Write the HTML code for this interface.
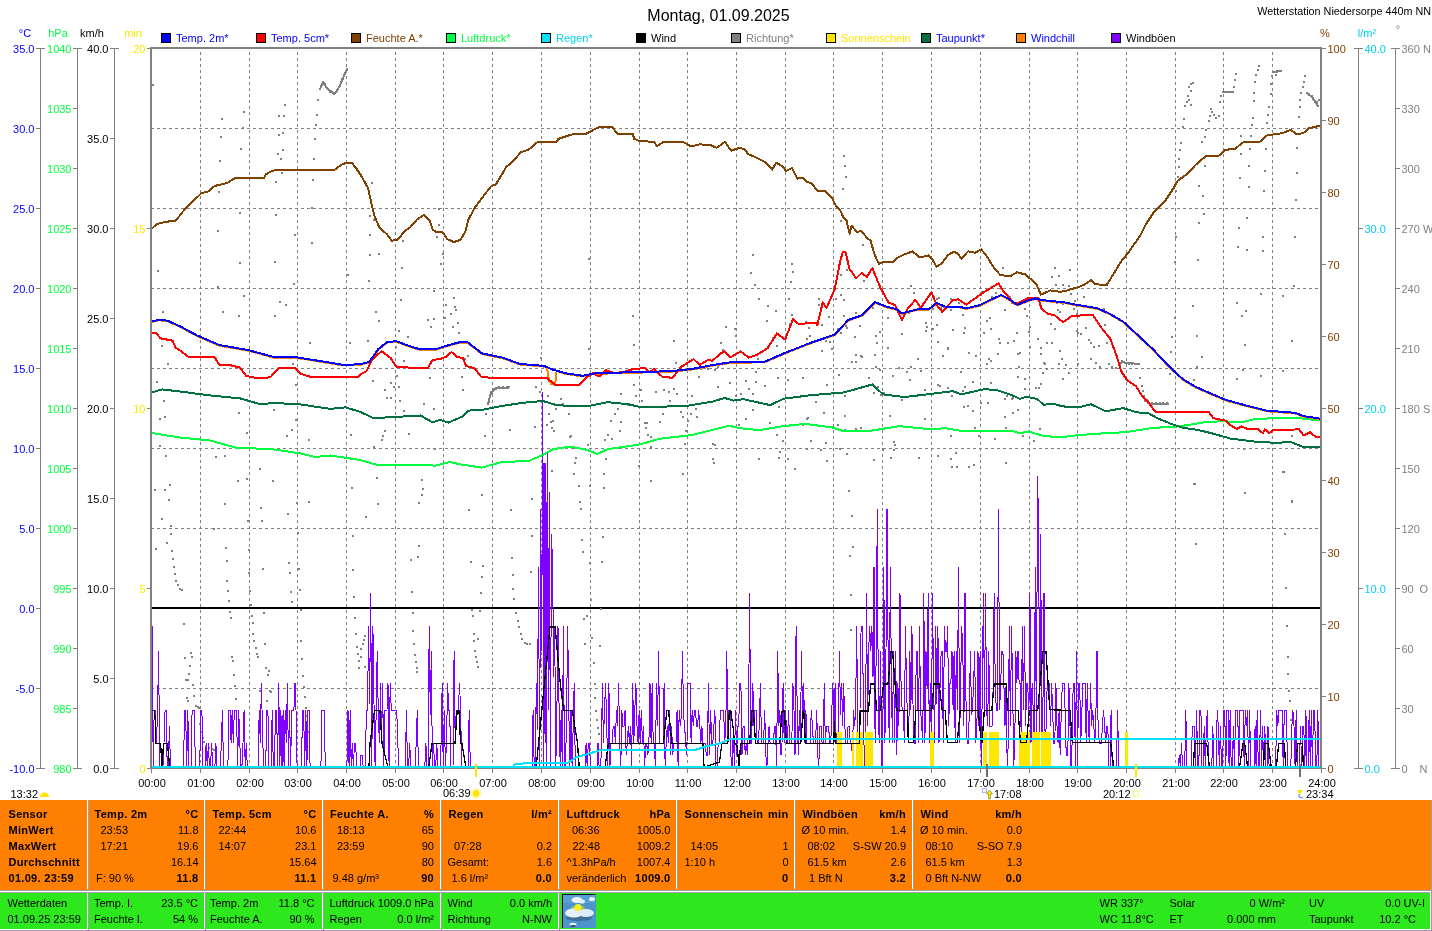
<!DOCTYPE html>
<html><head><meta charset="utf-8"><title>Wetterstation Niedersorpe</title>
<style>
html,body{margin:0;padding:0;background:#fff;}
body{width:1432px;height:931px;overflow:hidden;}
svg{display:block;}
text{font-family:"Liberation Sans", Arial, sans-serif;}
</style></head><body>
<svg width="1432" height="931" viewBox="0 0 1432 931">
<text x="718.5" y="20.5" fill="#000" font-size="16" text-anchor="middle" font-weight="normal" >Montag, 01.09.2025</text>
<text x="1431" y="15" fill="#000" font-size="10.8" text-anchor="end" font-weight="normal" >Wetterstation Niedersorpe 440m NN</text>
<text x="25" y="37" fill="#0000ff" font-size="11" text-anchor="middle" font-weight="normal" >°C</text>
<text x="58" y="37" fill="#00ff40" font-size="11" text-anchor="middle" font-weight="normal" >hPa</text>
<text x="92" y="37" fill="#000" font-size="11" text-anchor="middle" font-weight="normal" >km/h</text>
<text x="133" y="37" fill="#ffe600" font-size="11" text-anchor="middle" font-weight="normal" >min</text>
<text x="1325" y="37" fill="#804000" font-size="11" text-anchor="middle" font-weight="normal" >%</text>
<text x="1367" y="37" fill="#00ccee" font-size="11" text-anchor="middle" font-weight="normal" >l/m²</text>
<text x="1398" y="33" fill="#808080" font-size="11" text-anchor="middle" font-weight="normal" >°</text>
<rect x="161.5" y="33.5" width="9" height="9" fill="#0000ff" stroke="#000" stroke-width="1"/>
<text x="176" y="42" fill="#0000ff" font-size="11" text-anchor="start" font-weight="normal" >Temp. 2m*</text>
<rect x="256.5" y="33.5" width="9" height="9" fill="#ff0000" stroke="#000" stroke-width="1"/>
<text x="271" y="42" fill="#0000ff" font-size="11" text-anchor="start" font-weight="normal" >Temp. 5cm*</text>
<rect x="351.5" y="33.5" width="9" height="9" fill="#804000" stroke="#000" stroke-width="1"/>
<text x="366" y="42" fill="#804000" font-size="11" text-anchor="start" font-weight="normal" >Feuchte A.*</text>
<rect x="446.5" y="33.5" width="9" height="9" fill="#00ff40" stroke="#000" stroke-width="1"/>
<text x="461" y="42" fill="#00ff40" font-size="11" text-anchor="start" font-weight="normal" >Luftdruck*</text>
<rect x="541.5" y="33.5" width="9" height="9" fill="#00e0ff" stroke="#000" stroke-width="1"/>
<text x="556" y="42" fill="#00d0ee" font-size="11" text-anchor="start" font-weight="normal" >Regen*</text>
<rect x="636.5" y="33.5" width="9" height="9" fill="#000000" stroke="#000" stroke-width="1"/>
<text x="651" y="42" fill="#000" font-size="11" text-anchor="start" font-weight="normal" >Wind</text>
<rect x="731.5" y="33.5" width="9" height="9" fill="#808080" stroke="#000" stroke-width="1"/>
<text x="746" y="42" fill="#808080" font-size="11" text-anchor="start" font-weight="normal" >Richtung*</text>
<rect x="826.5" y="33.5" width="9" height="9" fill="#ffe600" stroke="#000" stroke-width="1"/>
<text x="841" y="42" fill="#ffe600" font-size="11" text-anchor="start" font-weight="normal" >Sonnenschein</text>
<rect x="921.5" y="33.5" width="9" height="9" fill="#007040" stroke="#000" stroke-width="1"/>
<text x="936" y="42" fill="#0000ff" font-size="11" text-anchor="start" font-weight="normal" >Taupunkt*</text>
<rect x="1016.5" y="33.5" width="9" height="9" fill="#ff8000" stroke="#000" stroke-width="1"/>
<text x="1031" y="42" fill="#0000ff" font-size="11" text-anchor="start" font-weight="normal" >Windchill</text>
<rect x="1111.5" y="33.5" width="9" height="9" fill="#8000ff" stroke="#000" stroke-width="1"/>
<text x="1126" y="42" fill="#000" font-size="11" text-anchor="start" font-weight="normal" >Windböen</text>
<path d="M200.5,49V768M249.5,49V768M297.5,49V768M346.5,49V768M395.5,49V768M443.5,49V768M492.5,49V768M541.5,49V768M590.5,49V768M639.5,49V768M687.5,49V768M736.5,49V768M785.5,49V768M833.5,49V768M882.5,49V768M931.5,49V768M980.5,49V768M1029.5,49V768M1077.5,49V768M1126.5,49V768M1175.5,49V768M1223.5,49V768M1272.5,49V768" stroke="#808080" stroke-width="1" stroke-dasharray="3 3" stroke-dashoffset="3" fill="none"/>
<path d="M151,128.5H1320M151,208.5H1320M151,288.5H1320M151,368.5H1320M151,448.5H1320M151,528.5H1320M151,608.5H1320M151,688.5H1320" stroke="#808080" stroke-width="1" stroke-dasharray="3 3" fill="none"/>
<path d="M40.5,48V769" stroke="#808080" stroke-width="1"/>
<path d="M36,48.5H45" stroke="#808080" stroke-width="1"/>
<text x="34.5" y="52.5" fill="#0000ff" font-size="11" text-anchor="end" font-weight="normal" >35.0</text>
<path d="M36,128.5H41" stroke="#808080" stroke-width="1"/>
<text x="34.5" y="132.5" fill="#0000ff" font-size="11" text-anchor="end" font-weight="normal" >30.0</text>
<path d="M36,208.5H41" stroke="#808080" stroke-width="1"/>
<text x="34.5" y="212.5" fill="#0000ff" font-size="11" text-anchor="end" font-weight="normal" >25.0</text>
<path d="M36,288.5H41" stroke="#808080" stroke-width="1"/>
<text x="34.5" y="292.5" fill="#0000ff" font-size="11" text-anchor="end" font-weight="normal" >20.0</text>
<path d="M36,368.5H41" stroke="#808080" stroke-width="1"/>
<text x="34.5" y="372.5" fill="#0000ff" font-size="11" text-anchor="end" font-weight="normal" >15.0</text>
<path d="M36,448.5H41" stroke="#808080" stroke-width="1"/>
<text x="34.5" y="452.5" fill="#0000ff" font-size="11" text-anchor="end" font-weight="normal" >10.0</text>
<path d="M36,528.5H41" stroke="#808080" stroke-width="1"/>
<text x="34.5" y="532.5" fill="#0000ff" font-size="11" text-anchor="end" font-weight="normal" >5.0</text>
<path d="M36,608.5H41" stroke="#808080" stroke-width="1"/>
<text x="34.5" y="612.5" fill="#0000ff" font-size="11" text-anchor="end" font-weight="normal" >0.0</text>
<path d="M36,688.5H41" stroke="#808080" stroke-width="1"/>
<text x="34.5" y="692.5" fill="#0000ff" font-size="11" text-anchor="end" font-weight="normal" >-5.0</text>
<path d="M36,768.5H45" stroke="#808080" stroke-width="1"/>
<text x="34.5" y="772.5" fill="#0000ff" font-size="11" text-anchor="end" font-weight="normal" >-10.0</text>
<path d="M77.5,48V769" stroke="#808080" stroke-width="1"/>
<path d="M73,48.5H82" stroke="#808080" stroke-width="1"/>
<text x="71.5" y="52.5" fill="#00ff40" font-size="11" text-anchor="end" font-weight="normal" >1040</text>
<path d="M73,108.5H78" stroke="#808080" stroke-width="1"/>
<text x="71.5" y="112.5" fill="#00ff40" font-size="11" text-anchor="end" font-weight="normal" >1035</text>
<path d="M73,168.5H78" stroke="#808080" stroke-width="1"/>
<text x="71.5" y="172.5" fill="#00ff40" font-size="11" text-anchor="end" font-weight="normal" >1030</text>
<path d="M73,228.5H78" stroke="#808080" stroke-width="1"/>
<text x="71.5" y="232.5" fill="#00ff40" font-size="11" text-anchor="end" font-weight="normal" >1025</text>
<path d="M73,288.5H78" stroke="#808080" stroke-width="1"/>
<text x="71.5" y="292.5" fill="#00ff40" font-size="11" text-anchor="end" font-weight="normal" >1020</text>
<path d="M73,348.5H78" stroke="#808080" stroke-width="1"/>
<text x="71.5" y="352.5" fill="#00ff40" font-size="11" text-anchor="end" font-weight="normal" >1015</text>
<path d="M73,408.5H78" stroke="#808080" stroke-width="1"/>
<text x="71.5" y="412.5" fill="#00ff40" font-size="11" text-anchor="end" font-weight="normal" >1010</text>
<path d="M73,468.5H78" stroke="#808080" stroke-width="1"/>
<text x="71.5" y="472.5" fill="#00ff40" font-size="11" text-anchor="end" font-weight="normal" >1005</text>
<path d="M73,528.5H78" stroke="#808080" stroke-width="1"/>
<text x="71.5" y="532.5" fill="#00ff40" font-size="11" text-anchor="end" font-weight="normal" >1000</text>
<path d="M73,588.5H78" stroke="#808080" stroke-width="1"/>
<text x="71.5" y="592.5" fill="#00ff40" font-size="11" text-anchor="end" font-weight="normal" >995</text>
<path d="M73,648.5H78" stroke="#808080" stroke-width="1"/>
<text x="71.5" y="652.5" fill="#00ff40" font-size="11" text-anchor="end" font-weight="normal" >990</text>
<path d="M73,708.5H78" stroke="#808080" stroke-width="1"/>
<text x="71.5" y="712.5" fill="#00ff40" font-size="11" text-anchor="end" font-weight="normal" >985</text>
<path d="M73,768.5H82" stroke="#808080" stroke-width="1"/>
<text x="71.5" y="772.5" fill="#00ff40" font-size="11" text-anchor="end" font-weight="normal" >980</text>
<path d="M114.5,48V769" stroke="#808080" stroke-width="1"/>
<path d="M110,48.5H119" stroke="#808080" stroke-width="1"/>
<text x="108.5" y="52.5" fill="#000" font-size="11" text-anchor="end" font-weight="normal" >40.0</text>
<path d="M110,138.5H115" stroke="#808080" stroke-width="1"/>
<text x="108.5" y="142.5" fill="#000" font-size="11" text-anchor="end" font-weight="normal" >35.0</text>
<path d="M110,228.5H115" stroke="#808080" stroke-width="1"/>
<text x="108.5" y="232.5" fill="#000" font-size="11" text-anchor="end" font-weight="normal" >30.0</text>
<path d="M110,318.5H115" stroke="#808080" stroke-width="1"/>
<text x="108.5" y="322.5" fill="#000" font-size="11" text-anchor="end" font-weight="normal" >25.0</text>
<path d="M110,408.5H115" stroke="#808080" stroke-width="1"/>
<text x="108.5" y="412.5" fill="#000" font-size="11" text-anchor="end" font-weight="normal" >20.0</text>
<path d="M110,498.5H115" stroke="#808080" stroke-width="1"/>
<text x="108.5" y="502.5" fill="#000" font-size="11" text-anchor="end" font-weight="normal" >15.0</text>
<path d="M110,588.5H115" stroke="#808080" stroke-width="1"/>
<text x="108.5" y="592.5" fill="#000" font-size="11" text-anchor="end" font-weight="normal" >10.0</text>
<path d="M110,678.5H115" stroke="#808080" stroke-width="1"/>
<text x="108.5" y="682.5" fill="#000" font-size="11" text-anchor="end" font-weight="normal" >5.0</text>
<path d="M110,768.5H119" stroke="#808080" stroke-width="1"/>
<text x="108.5" y="772.5" fill="#000" font-size="11" text-anchor="end" font-weight="normal" >0.0</text>
<path d="M147,48.5H151" stroke="#808080" stroke-width="1"/>
<text x="145.5" y="52.5" fill="#ffe600" font-size="11" text-anchor="end" font-weight="normal" >20</text>
<path d="M147,228.5H151" stroke="#808080" stroke-width="1"/>
<text x="145.5" y="232.5" fill="#ffe600" font-size="11" text-anchor="end" font-weight="normal" >15</text>
<path d="M147,408.5H151" stroke="#808080" stroke-width="1"/>
<text x="145.5" y="412.5" fill="#ffe600" font-size="11" text-anchor="end" font-weight="normal" >10</text>
<path d="M147,588.5H151" stroke="#808080" stroke-width="1"/>
<text x="145.5" y="592.5" fill="#ffe600" font-size="11" text-anchor="end" font-weight="normal" >5</text>
<path d="M147,768.5H151" stroke="#808080" stroke-width="1"/>
<text x="145.5" y="772.5" fill="#ffe600" font-size="11" text-anchor="end" font-weight="normal" >0</text>
<path d="M1321,48.5H1326" stroke="#808080" stroke-width="1"/>
<text x="1327.5" y="52.5" fill="#804000" font-size="11" text-anchor="start" font-weight="normal" >100</text>
<path d="M1321,120.5H1326" stroke="#808080" stroke-width="1"/>
<text x="1327.5" y="124.5" fill="#804000" font-size="11" text-anchor="start" font-weight="normal" >90</text>
<path d="M1321,192.5H1326" stroke="#808080" stroke-width="1"/>
<text x="1327.5" y="196.5" fill="#804000" font-size="11" text-anchor="start" font-weight="normal" >80</text>
<path d="M1321,264.5H1326" stroke="#808080" stroke-width="1"/>
<text x="1327.5" y="268.5" fill="#804000" font-size="11" text-anchor="start" font-weight="normal" >70</text>
<path d="M1321,336.5H1326" stroke="#808080" stroke-width="1"/>
<text x="1327.5" y="340.5" fill="#804000" font-size="11" text-anchor="start" font-weight="normal" >60</text>
<path d="M1321,408.5H1326" stroke="#808080" stroke-width="1"/>
<text x="1327.5" y="412.5" fill="#804000" font-size="11" text-anchor="start" font-weight="normal" >50</text>
<path d="M1321,480.5H1326" stroke="#808080" stroke-width="1"/>
<text x="1327.5" y="484.5" fill="#804000" font-size="11" text-anchor="start" font-weight="normal" >40</text>
<path d="M1321,552.5H1326" stroke="#808080" stroke-width="1"/>
<text x="1327.5" y="556.5" fill="#804000" font-size="11" text-anchor="start" font-weight="normal" >30</text>
<path d="M1321,624.5H1326" stroke="#808080" stroke-width="1"/>
<text x="1327.5" y="628.5" fill="#804000" font-size="11" text-anchor="start" font-weight="normal" >20</text>
<path d="M1321,696.5H1326" stroke="#808080" stroke-width="1"/>
<text x="1327.5" y="700.5" fill="#804000" font-size="11" text-anchor="start" font-weight="normal" >10</text>
<path d="M1321,768.5H1326" stroke="#808080" stroke-width="1"/>
<text x="1327.5" y="772.5" fill="#804000" font-size="11" text-anchor="start" font-weight="normal" >0</text>
<path d="M1358.5,48V769" stroke="#808080" stroke-width="1"/>
<path d="M1354,48.5H1363" stroke="#808080" stroke-width="1"/>
<text x="1364.5" y="52.5" fill="#00d0ee" font-size="11" text-anchor="start" font-weight="normal" >40.0</text>
<path d="M1358,228.5H1363" stroke="#808080" stroke-width="1"/>
<text x="1364.5" y="232.5" fill="#00d0ee" font-size="11" text-anchor="start" font-weight="normal" >30.0</text>
<path d="M1358,408.5H1363" stroke="#808080" stroke-width="1"/>
<text x="1364.5" y="412.5" fill="#00d0ee" font-size="11" text-anchor="start" font-weight="normal" >20.0</text>
<path d="M1358,588.5H1363" stroke="#808080" stroke-width="1"/>
<text x="1364.5" y="592.5" fill="#00d0ee" font-size="11" text-anchor="start" font-weight="normal" >10.0</text>
<path d="M1354,768.5H1363" stroke="#808080" stroke-width="1"/>
<text x="1364.5" y="772.5" fill="#00d0ee" font-size="11" text-anchor="start" font-weight="normal" >0.0</text>
<path d="M1395.5,48V769" stroke="#808080" stroke-width="1"/>
<path d="M1391,48.5H1400" stroke="#808080" stroke-width="1"/>
<text x="1401.5" y="52.5" fill="#808080" font-size="11" text-anchor="start" font-weight="normal" >360 N</text>
<path d="M1395,108.5H1400" stroke="#808080" stroke-width="1"/>
<text x="1401.5" y="112.5" fill="#808080" font-size="11" text-anchor="start" font-weight="normal" >330</text>
<path d="M1395,168.5H1400" stroke="#808080" stroke-width="1"/>
<text x="1401.5" y="172.5" fill="#808080" font-size="11" text-anchor="start" font-weight="normal" >300</text>
<path d="M1395,228.5H1400" stroke="#808080" stroke-width="1"/>
<text x="1401.5" y="232.5" fill="#808080" font-size="11" text-anchor="start" font-weight="normal" >270 W</text>
<path d="M1395,288.5H1400" stroke="#808080" stroke-width="1"/>
<text x="1401.5" y="292.5" fill="#808080" font-size="11" text-anchor="start" font-weight="normal" >240</text>
<path d="M1395,348.5H1400" stroke="#808080" stroke-width="1"/>
<text x="1401.5" y="352.5" fill="#808080" font-size="11" text-anchor="start" font-weight="normal" >210</text>
<path d="M1395,408.5H1400" stroke="#808080" stroke-width="1"/>
<text x="1401.5" y="412.5" fill="#808080" font-size="11" text-anchor="start" font-weight="normal" >180 S</text>
<path d="M1395,468.5H1400" stroke="#808080" stroke-width="1"/>
<text x="1401.5" y="472.5" fill="#808080" font-size="11" text-anchor="start" font-weight="normal" >150</text>
<path d="M1395,528.5H1400" stroke="#808080" stroke-width="1"/>
<text x="1401.5" y="532.5" fill="#808080" font-size="11" text-anchor="start" font-weight="normal" >120</text>
<path d="M1395,588.5H1400" stroke="#808080" stroke-width="1"/>
<text x="1401.5" y="592.5" fill="#808080" font-size="11" text-anchor="start" font-weight="normal" >90</text>
<path d="M1395,648.5H1400" stroke="#808080" stroke-width="1"/>
<text x="1401.5" y="652.5" fill="#808080" font-size="11" text-anchor="start" font-weight="normal" >60</text>
<path d="M1395,708.5H1400" stroke="#808080" stroke-width="1"/>
<text x="1401.5" y="712.5" fill="#808080" font-size="11" text-anchor="start" font-weight="normal" >30</text>
<path d="M1391,768.5H1400" stroke="#808080" stroke-width="1"/>
<text x="1401.5" y="772.5" fill="#808080" font-size="11" text-anchor="start" font-weight="normal" >0</text>
<text x="1419.5" y="772.5" fill="#808080" font-size="11" text-anchor="start" font-weight="normal" >N</text>
<text x="1419.5" y="592.5" fill="#808080" font-size="11" text-anchor="start" font-weight="normal" >O</text>
<path d="M152,608.0H1320" stroke="#000" stroke-width="2"/>
<path d="M152,84h2v2h-2zM221,118h2v2h-2zM243,111h2v2h-2zM284,104h2v2h-2zM278,115h2v2h-2zM283,115h2v2h-2zM220,136h2v2h-2zM242,127h2v2h-2zM278,134h2v2h-2zM282,132h2v2h-2zM240,148h2v2h-2zM219,160h2v2h-2zM277,153h2v2h-2zM282,149h2v2h-2zM280,158h2v2h-2zM281,172h2v2h-2zM275,181h2v2h-2zM218,191h2v2h-2zM239,212h2v2h-2zM275,214h2v2h-2zM217,230h2v2h-2zM294,234h2v2h-2zM311,242h2v2h-2zM239,262h2v2h-2zM274,261h2v2h-2zM293,283h2v2h-2zM157,270h2v2h-2zM217,286h2v2h-2zM314,138h2v2h-2zM313,158h2v2h-2zM312,179h2v2h-2zM311,207h2v2h-2zM315,124h2v2h-2zM316,114h2v2h-2zM317,99h2v2h-2zM319,88h2v2h-2zM322,81h2v2h-2zM324,83h2v2h-2zM327,88h2v2h-2zM329,91h2v2h-2zM333,93h2v2h-2zM336,90h2v2h-2zM338,86h2v2h-2zM340,82h2v2h-2zM341,78h2v2h-2zM344,73h2v2h-2zM346,68h2v2h-2zM371,182h2v2h-2zM369,215h2v2h-2zM373,219h2v2h-2zM369,234h2v2h-2zM369,254h2v2h-2zM378,253h2v2h-2zM368,280h2v2h-2zM347,274h2v2h-2zM401,267h2v2h-2zM402,240h2v2h-2zM438,208h2v2h-2zM438,224h2v2h-2zM436,236h2v2h-2zM442,253h2v2h-2zM440,263h2v2h-2zM162,311h2v2h-2zM222,311h2v2h-2zM238,315h2v2h-2zM243,295h2v2h-2zM279,301h2v2h-2zM285,304h2v2h-2zM274,315h2v2h-2zM375,311h2v2h-2zM378,320h2v2h-2zM427,319h2v2h-2zM433,318h2v2h-2zM430,326h2v2h-2zM445,304h2v2h-2zM444,317h2v2h-2zM400,299h2v2h-2zM433,290h2v2h-2zM309,342h2v2h-2zM349,342h2v2h-2zM367,340h2v2h-2zM398,330h2v2h-2zM407,336h2v2h-2zM395,346h2v2h-2zM403,360h2v2h-2zM161,345h2v2h-2zM167,363h2v2h-2zM292,363h2v2h-2zM396,375h2v2h-2zM390,382h2v2h-2zM384,389h2v2h-2zM393,386h2v2h-2zM398,386h2v2h-2zM372,380h2v2h-2zM429,377h2v2h-2zM156,381h2v2h-2zM295,384h2v2h-2zM386,397h2v2h-2zM390,397h2v2h-2zM399,400h2v2h-2zM423,403h2v2h-2zM403,410h2v2h-2zM433,408h2v2h-2zM163,400h2v2h-2zM238,412h2v2h-2zM273,409h2v2h-2zM159,418h2v2h-2zM164,416h2v2h-2zM295,419h2v2h-2zM291,429h2v2h-2zM286,435h2v2h-2zM246,432h2v2h-2zM308,439h2v2h-2zM350,434h2v2h-2zM384,430h2v2h-2zM382,435h2v2h-2zM381,439h2v2h-2zM408,433h2v2h-2zM373,446h2v2h-2zM434,448h2v2h-2zM159,445h2v2h-2zM165,455h2v2h-2zM215,456h2v2h-2zM224,455h2v2h-2zM259,468h2v2h-2zM237,480h2v2h-2zM246,478h2v2h-2zM272,480h2v2h-2zM376,477h2v2h-2zM421,479h2v2h-2zM169,484h2v2h-2zM154,489h2v2h-2zM164,489h2v2h-2zM351,487h2v2h-2zM422,488h2v2h-2zM421,494h2v2h-2zM168,499h2v2h-2zM224,503h2v2h-2zM260,507h2v2h-2zM296,502h2v2h-2zM308,501h2v2h-2zM377,503h2v2h-2zM418,502h2v2h-2zM161,518h2v2h-2zM170,525h2v2h-2zM247,520h2v2h-2zM261,520h2v2h-2zM287,513h2v2h-2zM365,516h2v2h-2zM155,548h2v2h-2zM166,542h2v2h-2zM170,533h2v2h-2zM171,550h2v2h-2zM172,558h2v2h-2zM173,566h2v2h-2zM174,573h2v2h-2zM175,580h2v2h-2zM177,584h2v2h-2zM179,588h2v2h-2zM181,589h2v2h-2zM213,528h2v2h-2zM225,547h2v2h-2zM226,560h2v2h-2zM226,580h2v2h-2zM227,590h2v2h-2zM228,600h2v2h-2zM229,611h2v2h-2zM230,617h2v2h-2zM231,656h2v2h-2zM232,660h2v2h-2zM233,674h2v2h-2zM234,685h2v2h-2zM235,698h2v2h-2zM248,549h2v2h-2zM248,572h2v2h-2zM249,590h2v2h-2zM250,604h2v2h-2zM251,615h2v2h-2zM252,622h2v2h-2zM252,633h2v2h-2zM253,640h2v2h-2zM255,647h2v2h-2zM256,653h2v2h-2zM257,656h2v2h-2zM262,568h2v2h-2zM263,612h2v2h-2zM264,643h2v2h-2zM265,667h2v2h-2zM268,670h2v2h-2zM267,674h2v2h-2zM269,690h2v2h-2zM270,691h2v2h-2zM266,700h2v2h-2zM259,690h2v2h-2zM288,562h2v2h-2zM289,572h2v2h-2zM290,591h2v2h-2zM291,601h2v2h-2zM297,532h2v2h-2zM298,568h2v2h-2zM299,589h2v2h-2zM300,609h2v2h-2zM300,640h2v2h-2zM301,658h2v2h-2zM302,675h2v2h-2zM303,686h2v2h-2zM304,696h2v2h-2zM305,707h2v2h-2zM306,715h2v2h-2zM307,731h2v2h-2zM183,623h2v2h-2zM184,657h2v2h-2zM190,652h2v2h-2zM191,656h2v2h-2zM189,665h2v2h-2zM188,673h2v2h-2zM185,679h2v2h-2zM187,679h2v2h-2zM192,684h2v2h-2zM186,697h2v2h-2zM187,700h2v2h-2zM193,695h2v2h-2zM195,705h2v2h-2zM197,706h2v2h-2zM198,707h2v2h-2zM199,723h2v2h-2zM201,731h2v2h-2zM202,737h2v2h-2zM203,741h2v2h-2zM205,745h2v2h-2zM208,747h2v2h-2zM211,748h2v2h-2zM213,749h2v2h-2zM352,535h2v2h-2zM352,569h2v2h-2zM353,596h2v2h-2zM354,617h2v2h-2zM355,633h2v2h-2zM356,646h2v2h-2zM357,653h2v2h-2zM358,660h2v2h-2zM358,667h2v2h-2zM360,648h2v2h-2zM362,643h2v2h-2zM363,639h2v2h-2zM364,635h2v2h-2zM364,666h2v2h-2zM360,656h2v2h-2zM410,559h2v2h-2zM417,556h2v2h-2zM418,545h2v2h-2zM411,591h2v2h-2zM412,612h2v2h-2zM412,630h2v2h-2zM413,643h2v2h-2zM414,654h2v2h-2zM415,661h2v2h-2zM416,667h2v2h-2zM416,671h2v2h-2zM588,258h2v2h-2zM453,297h2v2h-2zM454,306h2v2h-2zM455,309h2v2h-2zM450,313h2v2h-2zM457,322h2v2h-2zM452,326h2v2h-2zM458,332h2v2h-2zM461,376h2v2h-2zM462,389h2v2h-2zM467,355h2v2h-2zM464,358h2v2h-2zM484,435h2v2h-2zM485,413h2v2h-2zM488,398h2v2h-2zM489,395h2v2h-2zM490,391h2v2h-2zM492,388h2v2h-2zM495,387h2v2h-2zM498,386h2v2h-2zM502,386h2v2h-2zM506,386h2v2h-2zM508,386h2v2h-2zM509,429h2v2h-2zM534,426h2v2h-2zM535,386h2v2h-2zM539,391h2v2h-2zM540,357h2v2h-2zM547,395h2v2h-2zM548,413h2v2h-2zM546,424h2v2h-2zM550,421h2v2h-2zM551,427h2v2h-2zM552,420h2v2h-2zM553,430h2v2h-2zM555,408h2v2h-2zM560,398h2v2h-2zM562,403h2v2h-2zM568,413h2v2h-2zM569,436h2v2h-2zM570,435h2v2h-2zM574,447h2v2h-2zM575,457h2v2h-2zM574,462h2v2h-2zM573,473h2v2h-2zM578,485h2v2h-2zM579,501h2v2h-2zM580,508h2v2h-2zM551,470h2v2h-2zM540,455h2v2h-2zM588,348h2v2h-2zM587,444h2v2h-2zM589,485h2v2h-2zM603,487h2v2h-2zM603,473h2v2h-2zM605,458h2v2h-2zM604,439h2v2h-2zM607,434h2v2h-2zM610,420h2v2h-2zM611,438h2v2h-2zM614,413h2v2h-2zM617,408h2v2h-2zM620,421h2v2h-2zM619,430h2v2h-2zM620,393h2v2h-2zM627,404h2v2h-2zM632,315h2v2h-2zM633,344h2v2h-2zM633,384h2v2h-2zM635,395h2v2h-2zM640,389h2v2h-2zM641,400h2v2h-2zM644,422h2v2h-2zM645,427h2v2h-2zM646,422h2v2h-2zM647,434h2v2h-2zM650,436h2v2h-2zM650,480h2v2h-2zM655,391h2v2h-2zM659,421h2v2h-2zM662,413h2v2h-2zM663,389h2v2h-2zM668,391h2v2h-2zM669,400h2v2h-2zM673,340h2v2h-2zM675,362h2v2h-2zM676,393h2v2h-2zM680,411h2v2h-2zM682,416h2v2h-2zM685,430h2v2h-2zM687,420h2v2h-2zM690,413h2v2h-2zM691,395h2v2h-2zM695,408h2v2h-2zM696,416h2v2h-2zM698,376h2v2h-2zM700,368h2v2h-2zM707,368h2v2h-2zM714,369h2v2h-2zM717,366h2v2h-2zM717,386h2v2h-2zM720,342h2v2h-2zM722,349h2v2h-2zM725,326h2v2h-2zM734,328h2v2h-2zM735,335h2v2h-2zM729,382h2v2h-2zM735,395h2v2h-2zM740,393h2v2h-2zM745,380h2v2h-2zM748,388h2v2h-2zM738,424h2v2h-2zM745,418h2v2h-2zM712,443h2v2h-2zM714,444h2v2h-2zM712,458h2v2h-2zM713,462h2v2h-2zM682,473h2v2h-2zM684,443h2v2h-2zM686,430h2v2h-2zM673,388h2v2h-2zM650,446h2v2h-2zM638,465h2v2h-2zM468,509h2v2h-2zM481,494h2v2h-2zM510,509h2v2h-2zM531,498h2v2h-2zM470,561h2v2h-2zM482,565h2v2h-2zM481,576h2v2h-2zM480,592h2v2h-2zM471,609h2v2h-2zM479,610h2v2h-2zM472,615h2v2h-2zM473,633h2v2h-2zM477,638h2v2h-2zM473,640h2v2h-2zM474,650h2v2h-2zM475,656h2v2h-2zM476,661h2v2h-2zM477,666h2v2h-2zM511,557h2v2h-2zM512,574h2v2h-2zM512,588h2v2h-2zM513,598h2v2h-2zM515,612h2v2h-2zM517,620h2v2h-2zM518,626h2v2h-2zM520,633h2v2h-2zM521,638h2v2h-2zM524,642h2v2h-2zM526,643h2v2h-2zM529,643h2v2h-2zM530,571h2v2h-2zM531,535h2v2h-2zM581,539h2v2h-2zM582,551h2v2h-2zM589,562h2v2h-2zM590,599h2v2h-2zM583,618h2v2h-2zM586,615h2v2h-2zM584,643h2v2h-2zM591,637h2v2h-2zM599,645h2v2h-2zM593,662h2v2h-2zM594,683h2v2h-2zM594,697h2v2h-2zM595,710h2v2h-2zM596,719h2v2h-2zM597,727h2v2h-2zM598,733h2v2h-2zM601,561h2v2h-2zM602,536h2v2h-2zM600,608h2v2h-2zM843,155h2v2h-2zM844,165h2v2h-2zM845,176h2v2h-2zM842,188h2v2h-2zM840,220h2v2h-2zM862,244h2v2h-2zM752,254h2v2h-2zM750,272h2v2h-2zM754,284h2v2h-2zM791,263h2v2h-2zM792,271h2v2h-2zM790,281h2v2h-2zM840,274h2v2h-2zM846,269h2v2h-2zM863,280h2v2h-2zM910,285h2v2h-2zM1002,267h2v2h-2zM1192,82h2v2h-2zM1190,83h2v2h-2zM1188,86h2v2h-2zM1190,90h2v2h-2zM1187,95h2v2h-2zM1188,99h2v2h-2zM1186,101h2v2h-2zM1190,104h2v2h-2zM1184,105h2v2h-2zM1183,118h2v2h-2zM1182,126h2v2h-2zM1180,142h2v2h-2zM1179,149h2v2h-2zM1178,158h2v2h-2zM1178,166h2v2h-2zM1177,176h2v2h-2zM1175,190h2v2h-2zM1210,108h2v2h-2zM1211,111h2v2h-2zM1213,114h2v2h-2zM1215,117h2v2h-2zM1218,115h2v2h-2zM1209,115h2v2h-2zM1208,120h2v2h-2zM1205,129h2v2h-2zM1204,136h2v2h-2zM1201,141h2v2h-2zM1222,91h2v2h-2zM1224,91h2v2h-2zM1228,91h2v2h-2zM1232,91h2v2h-2zM1220,95h2v2h-2zM1219,101h2v2h-2zM1233,86h2v2h-2zM1234,79h2v2h-2zM1235,73h2v2h-2zM1258,65h2v2h-2zM1257,69h2v2h-2zM1255,74h2v2h-2zM1254,81h2v2h-2zM1253,92h2v2h-2zM1253,100h2v2h-2zM1252,117h2v2h-2zM1251,124h2v2h-2zM1250,135h2v2h-2zM1249,148h2v2h-2zM1248,165h2v2h-2zM1248,186h2v2h-2zM1246,217h2v2h-2zM1246,249h2v2h-2zM1273,71h2v2h-2zM1276,70h2v2h-2zM1280,70h2v2h-2zM1275,74h2v2h-2zM1271,75h2v2h-2zM1270,83h2v2h-2zM1270,93h2v2h-2zM1268,106h2v2h-2zM1267,114h2v2h-2zM1266,122h2v2h-2zM1265,148h2v2h-2zM1264,170h2v2h-2zM1263,190h2v2h-2zM1262,236h2v2h-2zM1262,250h2v2h-2zM1304,75h2v2h-2zM1303,81h2v2h-2zM1302,86h2v2h-2zM1300,92h2v2h-2zM1299,99h2v2h-2zM1299,106h2v2h-2zM1298,116h2v2h-2zM1306,92h2v2h-2zM1308,93h2v2h-2zM1311,95h2v2h-2zM1313,99h2v2h-2zM1316,101h2v2h-2zM1317,105h2v2h-2zM1318,99h2v2h-2zM1296,147h2v2h-2zM1296,172h2v2h-2zM1295,199h2v2h-2zM1294,236h2v2h-2zM1293,285h2v2h-2zM1240,153h2v2h-2zM1239,177h2v2h-2zM1238,227h2v2h-2zM1237,246h2v2h-2zM1240,135h2v2h-2zM1198,185h2v2h-2zM1202,195h2v2h-2zM1203,213h2v2h-2zM1198,222h2v2h-2zM1197,259h2v2h-2zM1204,165h2v2h-2zM1175,236h2v2h-2zM1174,261h2v2h-2zM1054,267h2v2h-2zM1058,275h2v2h-2zM1069,269h2v2h-2zM1051,276h2v2h-2zM1055,284h2v2h-2zM1062,284h2v2h-2zM1068,285h2v2h-2zM1070,293h2v2h-2zM1083,296h2v2h-2zM1073,308h2v2h-2zM1059,311h2v2h-2zM1050,323h2v2h-2zM1080,333h2v2h-2zM1088,339h2v2h-2zM1090,342h2v2h-2zM1093,346h2v2h-2zM1098,345h2v2h-2zM1090,358h2v2h-2zM1095,362h2v2h-2zM1099,366h2v2h-2zM1085,327h2v2h-2zM1076,313h2v2h-2zM1103,308h2v2h-2zM1104,324h2v2h-2zM1106,342h2v2h-2zM1108,363h2v2h-2zM1111,366h2v2h-2zM1115,367h2v2h-2zM1119,364h2v2h-2zM1121,361h2v2h-2zM1124,362h2v2h-2zM1128,363h2v2h-2zM1131,363h2v2h-2zM1135,363h2v2h-2zM1138,363h2v2h-2zM1139,377h2v2h-2zM1141,385h2v2h-2zM1142,390h2v2h-2zM1143,395h2v2h-2zM1144,400h2v2h-2zM1147,402h2v2h-2zM1151,402h2v2h-2zM1155,402h2v2h-2zM1159,402h2v2h-2zM1162,402h2v2h-2zM1166,402h2v2h-2zM1192,305h2v2h-2zM1196,335h2v2h-2zM1201,356h2v2h-2zM1174,317h2v2h-2zM1171,336h2v2h-2zM1170,351h2v2h-2zM1169,373h2v2h-2zM1193,379h2v2h-2zM1196,366h2v2h-2zM1236,302h2v2h-2zM1241,315h2v2h-2zM1245,310h2v2h-2zM1244,344h2v2h-2zM1242,369h2v2h-2zM1236,378h2v2h-2zM1260,375h2v2h-2zM1260,293h2v2h-2zM1282,295h2v2h-2zM1291,340h2v2h-2zM1282,370h2v2h-2zM1291,435h2v2h-2zM1243,448h2v2h-2zM1282,471h2v2h-2zM1193,483h2v2h-2zM1244,492h2v2h-2zM1291,500h2v2h-2zM848,490h2v2h-2zM851,515h2v2h-2zM852,546h2v2h-2zM849,555h2v2h-2zM850,594h2v2h-2zM850,629h2v2h-2zM937,455h2v2h-2zM1194,483h2v2h-2zM1195,543h2v2h-2zM1244,492h2v2h-2zM1283,471h2v2h-2zM1291,501h2v2h-2zM1284,533h2v2h-2zM1285,587h2v2h-2zM1286,625h2v2h-2zM1287,656h2v2h-2zM1287,673h2v2h-2zM1288,690h2v2h-2zM1289,700h2v2h-2zM1290,719h2v2h-2zM821,350h2v2h-2zM861,356h2v2h-2zM936,298h2v2h-2zM755,381h2v2h-2zM828,316h2v2h-2zM1046,342h2v2h-2zM999,342h2v2h-2zM940,307h2v2h-2zM939,385h2v2h-2zM906,371h2v2h-2zM950,298h2v2h-2zM975,355h2v2h-2zM840,294h2v2h-2zM1007,342h2v2h-2zM964,386h2v2h-2zM962,390h2v2h-2zM868,377h2v2h-2zM883,392h2v2h-2zM1011,302h2v2h-2zM791,314h2v2h-2zM1037,338h2v2h-2zM936,324h2v2h-2zM901,333h2v2h-2zM855,354h2v2h-2zM924,389h2v2h-2zM953,391h2v2h-2zM1004,398h2v2h-2zM950,309h2v2h-2zM1006,395h2v2h-2zM1019,352h2v2h-2zM962,314h2v2h-2zM997,353h2v2h-2zM835,298h2v2h-2zM1004,398h2v2h-2zM777,377h2v2h-2zM872,307h2v2h-2zM838,374h2v2h-2zM1009,296h2v2h-2zM933,296h2v2h-2zM964,327h2v2h-2zM1012,397h2v2h-2zM901,399h2v2h-2zM843,299h2v2h-2zM929,294h2v2h-2zM809,335h2v2h-2zM932,308h2v2h-2zM764,385h2v2h-2zM844,395h2v2h-2zM1016,332h2v2h-2zM887,347h2v2h-2zM942,355h2v2h-2zM917,358h2v2h-2zM1029,346h2v2h-2zM879,369h2v2h-2zM821,324h2v2h-2zM1040,347h2v2h-2zM913,292h2v2h-2zM874,354h2v2h-2zM757,358h2v2h-2zM938,297h2v2h-2zM937,341h2v2h-2zM952,329h2v2h-2zM960,371h2v2h-2zM758,298h2v2h-2zM951,395h2v2h-2zM825,340h2v2h-2zM926,326h2v2h-2zM859,325h2v2h-2zM860,355h2v2h-2zM840,332h2v2h-2zM980,294h2v2h-2zM920,370h2v2h-2zM843,315h2v2h-2zM989,317h2v2h-2zM806,338h2v2h-2zM958,302h2v2h-2zM846,327h2v2h-2zM998,338h2v2h-2zM1004,309h2v2h-2zM851,361h2v2h-2zM1013,340h2v2h-2zM818,304h2v2h-2zM908,312h2v2h-2zM990,382h2v2h-2zM805,321h2v2h-2zM990,360h2v2h-2zM990,328h2v2h-2zM789,323h2v2h-2zM986,320h2v2h-2zM854,336h2v2h-2zM875,335h2v2h-2zM1024,308h2v2h-2zM752,393h2v2h-2zM1011,398h2v2h-2zM880,394h2v2h-2zM1026,315h2v2h-2zM972,381h2v2h-2zM947,347h2v2h-2zM837,328h2v2h-2zM818,298h2v2h-2zM925,322h2v2h-2zM991,296h2v2h-2zM1018,366h2v2h-2zM1024,388h2v2h-2zM1017,353h2v2h-2zM755,371h2v2h-2zM802,323h2v2h-2zM947,348h2v2h-2zM873,392h2v2h-2zM932,328h2v2h-2zM826,384h2v2h-2zM892,375h2v2h-2zM855,312h2v2h-2zM909,379h2v2h-2zM802,377h2v2h-2zM1024,378h2v2h-2zM995,292h2v2h-2zM937,384h2v2h-2zM766,320h2v2h-2zM831,348h2v2h-2zM876,342h2v2h-2zM981,291h2v2h-2zM767,305h2v2h-2zM788,298h2v2h-2zM1040,383h2v2h-2zM776,345h2v2h-2zM845,325h2v2h-2zM855,361h2v2h-2zM925,330h2v2h-2zM808,327h2v2h-2zM788,351h2v2h-2zM963,332h2v2h-2zM775,310h2v2h-2zM861,356h2v2h-2zM983,332h2v2h-2zM988,358h2v2h-2zM879,331h2v2h-2zM898,367h2v2h-2zM875,366h2v2h-2zM887,317h2v2h-2zM910,366h2v2h-2zM772,337h2v2h-2zM877,386h2v2h-2zM1028,331h2v2h-2zM1017,376h2v2h-2zM829,341h2v2h-2zM787,379h2v2h-2zM947,387h2v2h-2zM986,363h2v2h-2zM968,352h2v2h-2zM782,440h2v2h-2zM752,409h2v2h-2zM980,402h2v2h-2zM778,406h2v2h-2zM1012,412h2v2h-2zM758,458h2v2h-2zM787,458h2v2h-2zM950,458h2v2h-2zM1033,440h2v2h-2zM987,402h2v2h-2zM978,435h2v2h-2zM963,406h2v2h-2zM973,464h2v2h-2zM769,422h2v2h-2zM918,457h2v2h-2zM823,412h2v2h-2zM825,442h2v2h-2zM974,427h2v2h-2zM860,427h2v2h-2zM855,428h2v2h-2zM776,434h2v2h-2zM1039,428h2v2h-2zM972,410h2v2h-2zM955,452h2v2h-2zM950,435h2v2h-2zM894,444h2v2h-2zM1017,409h2v2h-2zM779,451h2v2h-2zM1022,435h2v2h-2zM882,449h2v2h-2zM806,418h2v2h-2zM810,440h2v2h-2zM844,415h2v2h-2zM956,466h2v2h-2zM839,448h2v2h-2zM873,459h2v2h-2zM924,418h2v2h-2zM815,401h2v2h-2zM893,426h2v2h-2zM802,424h2v2h-2zM846,453h2v2h-2zM794,468h2v2h-2zM893,441h2v2h-2zM890,457h2v2h-2zM994,438h2v2h-2zM893,449h2v2h-2zM1005,427h2v2h-2zM968,466h2v2h-2zM889,415h2v2h-2zM820,449h2v2h-2zM951,466h2v2h-2zM1004,416h2v2h-2zM807,417h2v2h-2zM806,448h2v2h-2zM1005,462h2v2h-2zM826,460h2v2h-2zM844,429h2v2h-2zM967,405h2v2h-2zM778,457h2v2h-2zM837,424h2v2h-2zM1058,363h2v2h-2zM1029,326h2v2h-2zM1051,342h2v2h-2zM1040,353h2v2h-2zM1077,332h2v2h-2zM1056,302h2v2h-2zM1043,362h2v2h-2zM1035,387h2v2h-2zM1074,300h2v2h-2zM1076,330h2v2h-2zM1068,372h2v2h-2zM1044,363h2v2h-2zM1062,378h2v2h-2zM1042,372h2v2h-2zM1077,363h2v2h-2zM1056,301h2v2h-2zM1054,328h2v2h-2zM1065,364h2v2h-2zM1057,309h2v2h-2zM1061,358h2v2h-2zM1038,387h2v2h-2zM1062,303h2v2h-2zM1076,305h2v2h-2zM1046,368h2v2h-2zM1059,350h2v2h-2z" fill="#808080"/>
<polyline points="319.8,89.4 323.0,81.9 326.2,87.3 332.7,92.7 334.8,93.3 339.1,87.3 342.3,79.8 345.6,72.2 347.7,69.0" fill="none" stroke="#808080" stroke-width="2" stroke-linejoin="round" shape-rendering="crispEdges" />
<polyline points="488.0,404.7 490.3,395.0 494.5,389.0 500.0,387.6 509.0,387.6" fill="none" stroke="#808080" stroke-width="2" stroke-linejoin="round" shape-rendering="crispEdges" />
<polyline points="1118.8,365.6 1122.0,361.3 1125.2,362.8 1139.2,363.9" fill="none" stroke="#808080" stroke-width="2" stroke-linejoin="round" shape-rendering="crispEdges" />
<polyline points="1146.7,399.0 1148.9,403.6 1169.3,403.6" fill="none" stroke="#808080" stroke-width="2" stroke-linejoin="round" shape-rendering="crispEdges" />
<polyline points="1222.7,91.8 1233.0,91.8" fill="none" stroke="#808080" stroke-width="2" stroke-linejoin="round" shape-rendering="crispEdges" />
<polyline points="1274.3,72.5 1280.7,70.7" fill="none" stroke="#808080" stroke-width="2" stroke-linejoin="round" shape-rendering="crispEdges" />
<polyline points="1306.5,93.1 1312.0,97.0 1318.0,106.0" fill="none" stroke="#808080" stroke-width="2" stroke-linejoin="round" shape-rendering="crispEdges" />
<path d="M151.0,743L152.1,626L153.2,767L154.2,710L155.3,710L156.4,743L157.5,715L158.6,651L159.7,767L160.7,767L161.8,767L162.9,767L164.0,743L165.1,710L166.2,710L167.2,767L168.3,767L169.4,726L170.5,767L171.6,767L172.6,767L173.7,767L174.8,767L175.9,767L177.0,767L178.1,767L179.1,767L180.2,767L181.3,767L182.4,767L183.5,767L184.6,710L185.6,710L186.7,767L187.8,710L188.9,767L190.0,767L191.0,767L192.1,710L193.2,710L194.3,710L195.4,767L196.5,767L197.5,767L198.6,767L199.7,767L200.8,710L201.9,710L203.0,767L204.0,767L205.1,767L206.2,743L207.3,767L208.4,743L209.4,767L210.5,767L211.6,743L212.7,767L213.8,767L214.9,767L215.9,743L217.0,767L218.1,767L219.2,767L220.3,767L221.4,743L222.4,710L223.5,767L224.6,767L225.7,767L226.8,767L227.9,767L228.9,710L230.0,710L231.1,743L232.2,710L233.3,743L234.3,710L235.4,710L236.5,710L237.6,767L238.7,710L239.8,743L240.8,767L241.9,767L243.0,743L244.1,710L245.2,767L246.3,743L247.3,767L248.4,767L249.5,767L250.6,767L251.7,767L252.7,767L253.8,767L254.9,767L256.0,767L257.1,767L258.2,767L259.2,710L260.3,743L261.4,683L262.5,730L263.6,767L264.7,767L265.7,767L266.8,710L267.9,710L269.0,767L270.1,767L271.1,767L272.2,710L273.3,767L274.4,767L275.5,710L276.6,710L277.6,767L278.7,683L279.8,767L280.9,710L282.0,767L283.1,710L284.1,767L285.2,710L286.3,743L287.4,683L288.5,767L289.5,710L290.6,767L291.7,710L292.8,710L293.9,710L295.0,683L296.0,710L297.1,767L298.2,767L299.3,767L300.4,767L301.5,767L302.5,710L303.6,710L304.7,767L305.8,710L306.9,767L307.9,710L309.0,710L310.1,767L311.2,767L312.3,767L313.4,767L314.4,767L315.5,767L316.6,767L317.7,767L318.8,767L319.9,767L320.9,767L322.0,710L323.1,710L324.2,710L325.3,767L326.4,767L327.4,767L328.5,767L329.6,767L330.7,767L331.8,767L332.8,767L333.9,767L335.0,767L336.1,767L337.2,767L338.3,767L339.3,767L340.4,767L341.5,767L342.6,767L343.7,767L344.8,767L345.8,767L346.9,767L348.0,710L349.1,767L350.2,710L351.2,767L352.3,743L353.4,767L354.5,743L355.6,743L356.7,767L357.7,767L358.8,767L359.9,767L361.0,755L362.1,755L363.2,767L364.2,767L365.3,767L366.4,710L367.5,710L368.6,626L369.6,704L370.7,593L371.8,767L372.9,626L374.0,704L375.1,767L376.1,715L377.2,651L378.3,715L379.4,743L380.5,683L381.6,743L382.6,683L383.7,767L384.8,710L385.9,710L387.0,710L388.0,683L389.1,767L390.2,683L391.3,710L392.4,710L393.5,710L394.5,710L395.6,710L396.7,710L397.8,743L398.9,767L400.0,767L401.0,767L402.1,767L403.2,767L404.3,767L405.4,767L406.4,710L407.5,767L408.6,767L409.7,743L410.8,767L411.9,767L412.9,767L414.0,767L415.1,767L416.2,743L417.3,710L418.4,767L419.4,767L420.5,767L421.6,767L422.7,767L423.8,767L424.8,767L425.9,743L427.0,767L428.1,767L429.2,626L430.3,715L431.3,651L432.4,767L433.5,743L434.6,767L435.7,767L436.8,743L437.8,767L438.9,767L440.0,767L441.1,743L442.2,683L443.2,767L444.3,710L445.4,767L446.5,743L447.6,683L448.7,710L449.7,710L450.8,767L451.9,767L453.0,767L454.1,651L455.2,743L456.2,710L457.3,710L458.4,710L459.5,683L460.6,710L461.7,767L462.7,767L463.8,767L464.9,767L466.0,767L467.1,767L468.1,767L469.2,710L470.3,767L471.4,767L472.5,767L473.6,767L474.6,767L475.7,767L476.8,767L477.9,767L479.0,767L480.1,767L481.1,767L482.2,767L483.3,767L484.4,767L485.5,767L486.5,767L487.6,767L488.7,767L489.8,767L490.9,767L492.0,767L493.0,767L494.1,767L495.2,767L496.3,767L497.4,767L498.5,767L499.5,767L500.6,767L501.7,767L502.8,767L503.9,767L504.9,767L506.0,767L507.1,767L508.2,767L509.3,767L510.4,767L511.4,767L512.5,767L513.6,767L514.7,767L515.8,767L516.9,767L517.9,767L519.0,767L520.1,767L521.2,767L522.3,767L523.3,767L524.4,767L525.5,767L526.6,767L527.7,767L528.8,767L529.8,767L530.9,767L532.0,767L533.1,710L534.2,767L535.3,767L536.3,683L537.4,730L538.5,567L539.6,767L540.7,509L541.7,651L542.8,392L543.9,767L545.0,463L546.1,767L547.2,452L548.2,710L549.3,492L550.4,767L551.5,534L552.6,567L553.7,677L554.7,626L555.8,767L556.9,710L558.0,626L559.1,710L560.2,767L561.2,710L562.3,767L563.4,626L564.5,767L565.6,767L566.6,710L567.7,626L568.8,710L569.9,767L571.0,710L572.1,767L573.1,730L574.2,683L575.3,767L576.4,767L577.5,767L578.6,767L579.6,767L580.7,767L581.8,767L582.9,767L584.0,767L585.0,767L586.1,743L587.2,767L588.3,743L589.4,743L590.5,767L591.5,767L592.6,767L593.7,767L594.8,767L595.9,767L597.0,767L598.0,743L599.1,767L600.2,767L601.3,755L602.4,683L603.4,743L604.5,710L605.6,683L606.7,726L607.8,767L608.9,683L609.9,767L611.0,743L612.1,743L613.2,726L614.3,726L615.4,743L616.4,710L617.5,726L618.6,683L619.7,743L620.8,767L621.8,710L622.9,726L624.0,726L625.1,710L626.2,755L627.3,743L628.3,726L629.4,743L630.5,726L631.6,767L632.7,683L633.8,743L634.8,710L635.9,683L637.0,726L638.1,743L639.2,710L640.2,743L641.3,710L642.4,743L643.5,726L644.6,767L645.7,743L646.7,743L647.8,755L648.9,743L650.0,683L651.1,743L652.2,683L653.2,743L654.3,743L655.4,767L656.5,683L657.6,726L658.6,651L659.7,743L660.8,743L661.9,743L663.0,743L664.1,683L665.1,767L666.2,743L667.3,726L668.4,743L669.5,710L670.6,755L671.6,726L672.7,755L673.8,743L674.9,743L676.0,743L677.1,710L678.1,767L679.2,710L680.3,726L681.4,715L682.5,651L683.5,715L684.6,726L685.7,743L686.8,755L687.9,683L689.0,683L690.0,683L691.1,743L692.2,710L693.3,726L694.4,710L695.5,710L696.5,726L697.6,726L698.7,710L699.8,726L700.9,743L701.9,726L703.0,743L704.1,743L705.2,743L706.3,755L707.4,755L708.4,683L709.5,755L710.6,710L711.7,743L712.8,743L713.9,726L714.9,710L716.0,767L717.1,767L718.2,743L719.3,743L720.3,710L721.4,710L722.5,710L723.6,710L724.7,743L725.8,726L726.8,651L727.9,743L729.0,710L730.1,710L731.2,767L732.3,767L733.3,726L734.4,767L735.5,710L736.6,755L737.7,726L738.7,726L739.8,683L740.9,683L742.0,755L743.1,726L744.2,726L745.2,755L746.3,743L747.4,755L748.5,726L749.6,593L750.7,743L751.7,743L752.8,683L753.9,726L755.0,710L756.1,710L757.1,743L758.2,743L759.3,726L760.4,683L761.5,743L762.6,743L763.6,743L764.7,710L765.8,755L766.9,767L768.0,743L769.1,726L770.1,743L771.2,743L772.3,743L773.4,743L774.5,726L775.5,726L776.6,767L777.7,651L778.8,726L779.9,710L781.0,755L782.0,743L783.1,683L784.2,743L785.3,710L786.4,726L787.5,743L788.5,710L789.6,743L790.7,743L791.8,743L792.9,683L794.0,710L795.0,755L796.1,626L797.2,710L798.3,755L799.4,710L800.4,743L801.5,651L802.6,726L803.7,683L804.8,743L805.9,710L806.9,743L808.0,743L809.1,743L810.2,743L811.3,710L812.4,726L813.4,743L814.5,743L815.6,743L816.7,710L817.8,755L818.8,767L819.9,726L821.0,726L822.1,743L823.2,743L824.3,683L825.3,743L826.4,726L827.5,726L828.6,726L829.7,743L830.8,743L831.8,710L832.9,683L834.0,743L835.1,683L836.2,743L837.2,743L838.3,743L839.4,651L840.5,715L841.6,683L842.7,726L843.7,683L844.8,726L845.9,743L847.0,743L848.1,726L849.2,726L850.2,743L851.3,743L852.4,755L853.5,710L854.6,726L855.6,710L856.7,626L857.8,743L858.9,743L860.0,710L861.1,626L862.1,626L863.2,683L864.3,767L865.4,755L866.5,593L867.6,726L868.6,651L869.7,626L870.8,651L871.9,626L873.0,677L874.0,567L875.1,743L876.2,651L877.3,509L878.4,726L879.5,743L880.5,651L881.6,767L882.7,767L883.8,567L884.9,743L886.0,651L887.0,509L888.1,651L889.2,743L890.3,567L891.4,677L892.4,743L893.5,651L894.6,743L895.7,651L896.8,755L897.9,683L898.9,726L900.0,593L901.1,689L902.2,710L903.3,710L904.4,743L905.4,626L906.5,683L907.6,726L908.7,743L909.8,651L910.9,710L911.9,626L913.0,704L914.1,743L915.2,743L916.3,651L917.3,651L918.4,743L919.5,626L920.6,710L921.7,726L922.8,743L923.8,593L924.9,743L926.0,651L927.1,689L928.2,593L929.3,743L930.3,683L931.4,743L932.5,593L933.6,689L934.7,743L935.7,626L936.8,704L937.9,626L939.0,743L940.1,683L941.2,651L942.2,651L943.3,743L944.4,626L945.5,651L946.6,651L947.7,626L948.7,726L949.8,683L950.9,683L952.0,651L953.1,710L954.1,651L955.2,743L956.3,651L957.4,710L958.5,567L959.6,743L960.6,683L961.7,626L962.8,651L963.9,726L965.0,593L966.1,710L967.1,743L968.2,743L969.3,715L970.4,651L971.5,715L972.5,710L973.6,683L974.7,651L975.8,743L976.9,726L978.0,651L979.0,726L980.1,651L981.2,767L982.3,689L983.4,593L984.5,710L985.5,593L986.6,710L987.7,726L988.8,651L989.9,726L990.9,726L992.0,726L993.1,689L994.2,593L995.3,689L996.4,710L997.4,710L998.5,509L999.6,710L1000.7,683L1001.8,651L1002.9,651L1003.9,683L1005.0,726L1006.1,683L1007.2,767L1008.3,743L1009.3,626L1010.4,726L1011.5,626L1012.6,683L1013.7,767L1014.8,743L1015.8,651L1016.9,683L1018.0,651L1019.1,683L1020.2,683L1021.3,743L1022.3,626L1023.4,710L1024.5,626L1025.6,726L1026.7,683L1027.8,683L1028.8,726L1029.9,593L1031.0,743L1032.1,683L1033.2,710L1034.2,743L1035.3,567L1036.4,743L1037.5,476L1038.6,522L1039.7,755L1040.7,534L1041.8,767L1042.9,710L1044.0,593L1045.1,743L1046.2,726L1047.2,683L1048.3,683L1049.4,683L1050.5,726L1051.6,683L1052.6,710L1053.7,743L1054.8,743L1055.9,683L1057.0,726L1058.1,743L1059.1,710L1060.2,755L1061.3,710L1062.4,683L1063.5,683L1064.6,683L1065.6,743L1066.7,755L1067.8,755L1068.9,683L1070.0,726L1071.0,767L1072.1,743L1073.2,683L1074.3,683L1075.4,767L1076.5,651L1077.5,767L1078.6,683L1079.7,683L1080.8,743L1081.9,710L1083.0,683L1084.0,683L1085.1,683L1086.2,743L1087.3,683L1088.4,726L1089.4,743L1090.5,683L1091.6,726L1092.7,710L1093.8,726L1094.9,743L1095.9,715L1097.0,651L1098.1,726L1099.2,743L1100.3,743L1101.4,743L1102.4,726L1103.5,710L1104.6,726L1105.7,743L1106.8,726L1107.8,726L1108.9,767L1110.0,767L1111.1,710L1112.2,767L1113.3,767L1114.3,767L1115.4,767L1116.5,767L1117.6,710L1118.7,767L1119.8,767L1120.8,767L1121.9,767L1123.0,767L1124.1,767L1125.2,767L1126.2,767L1127.3,767L1128.4,767L1129.5,767L1130.6,767L1131.7,767L1132.7,767L1133.8,767L1134.9,767L1136.0,767L1137.1,767L1138.2,767L1139.2,767L1140.3,767L1141.4,767L1142.5,767L1143.6,767L1144.7,767L1145.7,767L1146.8,767L1147.9,767L1149.0,767L1150.1,767L1151.1,767L1152.2,767L1153.3,767L1154.4,767L1155.5,767L1156.6,767L1157.6,767L1158.7,767L1159.8,767L1160.9,767L1162.0,767L1163.1,767L1164.1,767L1165.2,767L1166.3,767L1167.4,767L1168.5,767L1169.5,767L1170.6,767L1171.7,767L1172.8,767L1173.9,767L1175.0,767L1176.0,767L1177.1,767L1178.2,767L1179.3,755L1180.4,767L1181.5,743L1182.5,767L1183.6,767L1184.7,767L1185.8,710L1186.9,767L1187.9,767L1189.0,767L1190.1,767L1191.2,767L1192.3,726L1193.4,726L1194.4,726L1195.5,767L1196.6,710L1197.7,767L1198.8,767L1199.9,710L1200.9,710L1202.0,767L1203.1,767L1204.2,726L1205.3,767L1206.3,726L1207.4,710L1208.5,767L1209.6,767L1210.7,767L1211.8,767L1212.8,726L1213.9,767L1215.0,767L1216.1,767L1217.2,710L1218.3,726L1219.3,767L1220.4,726L1221.5,767L1222.6,767L1223.7,710L1224.7,710L1225.8,767L1226.9,710L1228.0,710L1229.1,767L1230.2,710L1231.2,767L1232.3,767L1233.4,726L1234.5,767L1235.6,710L1236.7,710L1237.7,710L1238.8,767L1239.9,710L1241.0,710L1242.1,710L1243.1,710L1244.2,767L1245.3,710L1246.4,726L1247.5,710L1248.6,767L1249.6,710L1250.7,767L1251.8,767L1252.9,767L1254.0,767L1255.1,726L1256.1,767L1257.2,710L1258.3,767L1259.4,767L1260.5,710L1261.6,767L1262.6,726L1263.7,767L1264.8,726L1265.9,767L1267.0,767L1268.0,726L1269.1,767L1270.2,767L1271.3,767L1272.4,767L1273.5,767L1274.5,767L1275.6,767L1276.7,710L1277.8,726L1278.9,710L1280.0,710L1281.0,710L1282.1,710L1283.2,767L1284.3,710L1285.4,710L1286.4,710L1287.5,767L1288.6,767L1289.7,767L1290.8,767L1291.9,726L1292.9,710L1294.0,726L1295.1,767L1296.2,710L1297.3,767L1298.4,767L1299.4,767L1300.5,726L1301.6,767L1302.7,726L1303.8,726L1304.8,767L1305.9,710L1307.0,767L1308.1,767L1309.2,710L1310.3,767L1311.3,710L1312.4,767L1313.5,710L1314.6,710L1315.7,767L1316.8,767L1317.8,710L1318.9,767" stroke="#8000ff" stroke-width="1" fill="none" shape-rendering="crispEdges"/>
<rect x="837" y="732" width="5" height="35" fill="#ffe600"/>
<rect x="852" y="732" width="2" height="35" fill="#ffe600"/>
<rect x="856" y="732" width="7" height="35" fill="#ffe600"/>
<rect x="865" y="732" width="8" height="35" fill="#ffe600"/>
<rect x="870" y="732" width="3" height="35" fill="#ffe600"/>
<rect x="930" y="732" width="4" height="35" fill="#ffe600"/>
<rect x="983" y="732" width="4" height="35" fill="#ffe600"/>
<rect x="989" y="732" width="10" height="35" fill="#ffe600"/>
<rect x="1019" y="732" width="11" height="35" fill="#ffe600"/>
<rect x="1032" y="732" width="8" height="35" fill="#ffe600"/>
<rect x="1041" y="732" width="10" height="35" fill="#ffe600"/>
<rect x="1125" y="732" width="3" height="35" fill="#ffe600"/>
<polyline points="151.5,710.5 154.5,710.5 155.8,727.0 155.8,743.5 160.6,743.5 162.0,767.0 163.5,743.5 167.4,743.5 169.8,767.0 369.0,767.0 370.0,743.5 374.5,710.5 380.0,710.5 382.0,743.5 388.0,767.0 428.7,767.0 432.0,743.5 455.0,743.5 457.2,710.5 459.0,710.5 460.6,743.5 462.0,743.5 465.8,767.0 536.2,767.0 550.0,627.0 555.1,627.0 560.3,683.7 563.7,710.5 572.3,710.5 577.5,743.5 579.2,767.0 605.0,767.0 608.4,743.5 663.4,743.5 666.8,710.5 668.5,710.5 672.0,743.5 702.9,743.5 704.0,767.0 719.5,762.0 721.8,743.5 727.8,743.5 729.3,711.0 730.8,711.0 733.1,727.7 734.6,743.5 737.0,745.0 739.1,767.0 740.6,743.5 749.6,743.5 751.9,711.0 753.4,711.0 755.6,743.5 779.7,743.5 782.0,711.0 784.2,711.0 786.5,743.5 800.8,743.5 803.0,711.0 803.8,711.0 805.3,743.5 833.8,743.5 834.5,722.0 835.3,743.5 859.4,743.5 860.2,711.0 868.4,711.0 870.7,684.0 874.4,684.0 876.8,710.5 880.5,710.5 883.5,684.0 888.0,684.0 891.0,651.8 892.6,651.8 897.1,710.5 907.6,710.5 908.3,742.8 913.6,742.8 915.9,710.5 931.7,710.5 933.9,684.0 939.2,684.0 942.2,710.5 945.2,710.5 947.4,742.8 957.2,742.8 960.2,710.5 978.3,710.5 981.3,742.8 982.0,742.8 984.3,710.5 991.8,710.5 994.1,684.0 1006.1,684.0 1007.6,710.5 1018.1,710.5 1020.4,742.8 1026.4,742.8 1029.4,710.5 1037.7,710.5 1042.9,651.8 1046.0,651.8 1049.8,709.7 1070.1,710.5 1072.3,742.8 1110.7,742.8 1113.7,767.0 1193.4,767.0 1194.6,743.4 1206.7,743.4 1209.5,767.0 1239.5,767.0 1243.0,743.4 1244.7,743.4 1247.6,767.0 1263.7,767.0 1264.3,743.4 1268.3,743.4 1271.2,767.0 1276.4,767.0 1278.7,743.4 1284.4,743.4 1285.6,767.0 1295.4,767.0 1297.7,743.4 1302.3,743.4 1303.4,767.0 1320.0,767.0" fill="none" stroke="#000000" stroke-width="1.3" stroke-linejoin="round" shape-rendering="crispEdges" />
<path d="M152,767H1320" stroke="#00e0ff" stroke-width="2" fill="none"/>
<polyline points="151.0,767.0 513.0,767.0 514.4,764.6 527.3,763.0 567.3,763.0 576.3,757.4 589.2,753.5 602.0,749.6 696.1,749.6 705.2,746.6 720.6,743.2 730.9,738.8 1320.0,738.8" fill="none" stroke="#00e0ff" stroke-width="2" stroke-linejoin="round" shape-rendering="crispEdges" />
<polyline points="151.5,433.0 180.0,437.5 210.0,440.5 237.2,448.0 270.2,448.9 300.3,453.4 315.3,457.0 330.4,455.5 360.4,460.0 375.5,464.5 420.5,464.5 435.6,465.7 450.0,462.1 461.0,464.5 481.9,467.6 502.8,461.7 528.0,461.3 542.7,455.0 553.1,449.2 569.9,446.6 586.6,449.8 597.1,454.0 607.6,449.2 639.0,444.6 660.0,438.7 691.4,435.1 712.4,429.9 729.1,425.7 740.0,428.2 759.5,430.1 783.7,426.1 805.2,423.9 832.1,427.4 842.8,430.9 867.0,431.4 899.2,426.1 931.4,429.3 944.9,428.2 961.0,430.9 1012.0,430.9 1020.0,433.2 1028.6,431.5 1041.5,435.4 1058.7,437.5 1075.8,435.4 1097.3,433.7 1125.2,432.2 1153.2,427.9 1179.0,426.4 1209.0,421.6 1226.2,421.4 1241.2,422.5 1256.3,418.6 1299.2,418.2 1320.0,420.4" fill="none" stroke="#00ff40" stroke-width="2" stroke-linejoin="round" shape-rendering="crispEdges" />
<polyline points="151.5,392.4 162.0,389.4 180.0,391.5 210.0,395.4 240.2,398.4 261.2,404.4 273.2,402.9 300.3,404.4 330.4,408.9 345.4,407.4 360.4,411.9 374.0,418.5 390.5,417.0 405.5,416.4 420.5,415.5 432.6,422.4 440.0,419.8 448.4,422.6 463.0,416.3 468.3,410.6 481.9,410.0 502.8,405.8 523.8,402.7 542.7,401.0 555.2,404.7 565.7,405.8 586.6,406.4 607.6,402.2 628.5,404.3 639.0,406.8 657.9,406.8 687.2,405.8 712.4,401.6 724.9,398.0 733.3,400.6 743.4,399.2 770.3,405.1 783.7,398.7 810.6,395.2 842.8,392.5 853.5,389.8 872.3,384.4 883.1,394.4 904.6,397.1 931.4,393.8 952.9,391.1 961.0,394.4 985.1,389.0 998.6,390.6 1012.0,395.2 1020.0,398.9 1026.4,396.7 1037.2,398.9 1043.6,404.9 1052.2,403.6 1063.0,406.4 1078.0,407.5 1090.9,404.2 1105.9,411.3 1123.1,408.1 1136.0,412.2 1148.9,413.5 1157.5,418.2 1170.4,423.6 1183.2,427.9 1198.3,430.0 1213.3,433.7 1230.5,438.6 1256.3,441.8 1277.8,442.9 1290.6,441.8 1303.5,447.2 1320.0,446.6" fill="none" stroke="#007040" stroke-width="2" stroke-linejoin="round" shape-rendering="crispEdges" />
<polyline points="151.5,228.6 157.5,223.8 165.0,222.0 175.8,220.5 184.4,209.8 193.0,201.2 201.6,193.0 208.0,191.5 214.5,186.0 227.4,183.0 235.0,178.0 264.0,178.0 266.0,174.3 272.5,170.7 279.0,169.8 334.8,169.8 341.3,164.7 345.6,163.1 352.0,163.1 356.3,168.5 361.7,176.5 368.1,188.3 371.4,203.3 374.6,216.2 379.4,227.8 386.8,234.1 392.0,240.8 398.3,239.3 404.6,230.9 409.8,227.8 417.1,219.4 424.0,214.8 429.7,220.5 432.9,229.9 437.0,232.4 442.3,232.0 447.5,239.3 453.8,242.0 460.1,240.0 465.3,232.0 468.5,219.4 474.7,207.9 483.1,196.4 491.5,185.9 495.7,184.8 506.2,167.0 512.5,161.8 520.8,152.4 529.2,149.2 537.6,141.9 556.5,141.9 558.5,138.8 571.1,134.6 586.8,133.5 596.3,128.3 600.4,126.8 612.0,126.8 617.2,133.5 632.9,133.5 634.0,138.8 639.2,140.9 653.9,141.9 657.0,146.1 663.3,141.9 683.0,141.9 691.4,146.5 699.8,144.4 710.3,145.0 716.6,147.8 725.0,141.9 731.2,150.7 739.6,147.8 744.8,149.2 748.0,154.0 756.4,157.6 764.8,161.8 772.1,169.6 776.3,162.8 783.6,167.0 785.7,171.2 792.0,168.1 797.2,178.6 803.5,178.0 806.6,181.7 811.9,183.4 817.1,190.5 825.5,191.1 831.8,197.4 836.0,205.8 840.2,210.0 843.3,217.3 846.5,220.5 849.6,233.7 851.7,225.7 856.9,232.0 861.1,230.9 867.4,238.3 870.5,240.4 874.7,255.0 878.9,263.8 884.2,261.7 892.5,262.4 896.7,258.2 903.0,255.0 912.4,251.3 919.8,257.5 928.2,255.4 932.3,259.2 936.5,266.6 941.8,263.4 948.0,255.0 953.3,251.9 957.5,253.0 961.2,258.8 968.2,251.3 975.1,252.7 981.3,249.4 986.3,255.5 993.3,266.7 1000.3,275.0 1010.0,276.4 1017.0,272.3 1025.4,274.5 1032.4,280.6 1036.6,284.8 1040.8,294.6 1050.5,290.4 1060.3,291.8 1067.3,290.4 1078.0,287.2 1084.0,284.8 1091.0,280.1 1095.2,284.0 1106.4,285.5 1112.0,276.4 1120.4,262.5 1128.7,252.1 1139.9,236.0 1145.5,224.8 1153.9,212.2 1165.0,201.0 1173.4,188.5 1177.6,180.7 1187.4,174.0 1195.8,164.7 1205.5,156.4 1219.5,155.5 1225.1,149.9 1234.9,148.8 1243.2,142.4 1260.0,141.5 1267.0,135.4 1282.4,133.2 1290.7,129.8 1296.3,134.0 1303.3,133.2 1308.9,128.4 1320.0,125.6" fill="none" stroke="#804000" stroke-width="2" stroke-linejoin="round" shape-rendering="crispEdges" />
<polyline points="151.5,322.3 159.0,320.2 168.0,321.4 180.0,326.9 198.0,336.5 219.0,345.5 249.2,350.9 273.2,357.5 294.3,357.5 318.3,361.4 342.4,365.3 360.4,365.0 369.4,362.3 378.5,349.4 387.5,342.5 396.5,341.9 408.5,346.4 420.5,350.0 435.6,350.0 440.0,348.4 452.6,344.6 461.0,342.5 467.2,342.5 481.9,354.0 502.8,358.2 519.6,364.5 544.7,366.6 546.9,367.0 549.0,380.7 551.0,384.0 555.2,384.8 556.3,372.3 557.3,371.2 565.7,373.9 582.5,376.4 595.0,373.9 628.5,372.9 670.4,371.8 691.4,369.7 712.4,365.6 730.0,363.0 764.9,362.2 783.7,354.1 810.6,343.4 834.7,335.3 848.2,320.6 861.6,316.0 875.0,302.6 885.8,307.1 896.5,309.8 901.9,313.9 907.3,312.5 918.0,309.8 928.8,309.8 936.8,303.6 944.9,307.1 958.3,307.1 966.3,309.0 979.8,305.8 990.5,300.4 1001.3,295.6 1009.3,299.9 1017.4,305.3 1026.4,301.7 1035.0,299.0 1041.5,300.6 1063.0,302.8 1080.1,306.0 1097.3,308.8 1110.2,314.6 1123.1,322.2 1136.0,334.0 1153.2,350.1 1170.4,368.3 1183.2,380.1 1196.1,387.7 1213.3,395.2 1226.2,400.6 1245.5,405.9 1267.0,411.3 1295.0,413.4 1303.5,416.7 1320.0,419.2" fill="none" stroke="#ff8000" stroke-width="2" stroke-linejoin="round" shape-rendering="crispEdges" />
<polyline points="151.5,332.9 156.0,332.9 160.5,338.3 172.5,340.7 175.5,347.3 189.0,357.2 214.6,357.2 219.1,364.7 228.2,364.7 240.2,367.7 246.2,375.9 258.2,378.3 270.2,377.3 279.3,367.7 294.3,367.7 300.3,373.7 312.3,377.3 357.4,377.3 360.4,374.3 366.4,371.3 372.4,359.3 381.5,351.2 390.5,357.8 396.5,366.8 411.5,367.7 428.0,367.7 432.6,359.9 440.0,359.1 446.3,356.6 451.5,352.0 456.8,356.6 463.0,358.2 466.2,366.0 474.6,368.1 480.9,376.5 490.3,377.9 546.8,377.9 555.2,384.8 578.3,385.5 586.6,377.5 593.0,373.3 599.2,376.5 605.5,370.2 613.9,372.9 622.3,372.3 632.7,369.1 645.3,368.1 649.5,372.3 653.7,369.1 662.1,376.5 672.5,377.9 681.0,367.0 693.5,359.1 699.8,365.0 708.2,359.7 712.4,360.8 720.7,353.4 724.9,351.3 730.0,357.6 740.7,351.4 748.8,357.6 756.9,354.9 767.6,348.2 777.0,333.4 785.0,339.6 793.1,319.2 798.5,324.0 816.0,322.7 817.3,325.3 822.7,302.5 826.7,307.9 834.7,289.1 840.0,262.0 842.8,252.0 845.5,252.0 849.5,268.9 856.2,278.3 861.6,273.0 867.0,277.0 872.3,268.1 880.4,287.7 888.5,302.5 895.2,305.2 901.9,320.0 907.3,309.2 915.3,299.8 920.7,307.9 931.4,292.3 936.8,305.2 942.2,311.9 952.9,300.4 958.3,299.3 966.3,304.7 982.5,293.1 998.6,283.2 1002.6,290.4 1014.7,303.9 1020.0,302.2 1028.6,297.9 1038.3,298.4 1041.5,308.7 1047.9,314.0 1054.4,315.1 1063.0,322.2 1071.6,316.2 1080.1,315.5 1093.0,315.1 1101.6,328.0 1110.2,338.7 1116.7,355.9 1121.0,371.0 1127.4,380.6 1136.0,386.0 1142.4,396.7 1148.9,403.2 1155.3,411.8 1209.0,412.2 1213.3,418.2 1226.2,420.8 1229.4,424.7 1236.9,428.9 1241.2,426.4 1247.7,428.9 1258.4,429.4 1262.7,433.2 1264.9,429.4 1269.2,433.2 1273.5,430.0 1299.2,429.4 1303.5,435.4 1310.0,432.2 1316.4,437.5 1320.0,436.5" fill="none" stroke="#ff0000" stroke-width="2" stroke-linejoin="round" shape-rendering="crispEdges" />
<polyline points="151.5,321.7 159.0,319.6 168.0,320.8 180.0,326.3 198.0,335.9 219.0,344.9 249.2,350.3 273.2,356.9 294.3,356.9 318.3,360.8 342.4,364.7 360.4,364.4 369.4,361.7 378.5,348.8 387.5,341.9 396.5,341.3 408.5,345.8 420.5,349.4 435.6,349.4 440.0,347.8 452.6,344.0 461.0,341.9 467.2,341.9 481.9,353.4 502.8,357.6 519.6,363.9 544.7,366.0 551.0,369.1 565.7,373.3 582.5,375.8 595.0,373.3 628.5,372.3 670.4,371.2 691.4,369.1 712.4,365.0 730.0,362.4 764.9,361.6 783.7,353.5 810.6,342.8 834.7,334.7 848.2,320.0 861.6,315.4 875.0,302.0 885.8,306.5 896.5,309.2 901.9,313.3 907.3,311.9 918.0,309.2 928.8,309.2 936.8,303.0 944.9,306.5 958.3,306.5 966.3,308.4 979.8,305.2 990.5,299.8 1001.3,295.0 1009.3,299.3 1017.4,304.7 1026.4,301.1 1035.0,298.4 1041.5,300.0 1063.0,302.2 1080.1,305.4 1097.3,308.2 1110.2,314.0 1123.1,321.6 1136.0,333.4 1153.2,349.5 1170.4,367.7 1183.2,379.5 1196.1,387.1 1213.3,394.6 1226.2,400.0 1245.5,405.3 1267.0,410.7 1295.0,412.8 1303.5,416.1 1320.0,418.6" fill="none" stroke="#0000ff" stroke-width="2" stroke-linejoin="round" shape-rendering="crispEdges" />
<path d="M151,47V769M150,48H1322M1321,47V769" stroke="#808080" stroke-width="2" fill="none"/>
<path d="M150,768.5H1322" stroke="#808080" stroke-width="1"/>
<path d="M151.5,769V773" stroke="#808080" stroke-width="1"/>
<text x="152" y="787" fill="#000" font-size="11" text-anchor="middle" font-weight="normal" >00:00</text>
<path d="M200.5,769V773" stroke="#808080" stroke-width="1"/>
<text x="201" y="787" fill="#000" font-size="11" text-anchor="middle" font-weight="normal" >01:00</text>
<path d="M249.5,769V773" stroke="#808080" stroke-width="1"/>
<text x="250" y="787" fill="#000" font-size="11" text-anchor="middle" font-weight="normal" >02:00</text>
<path d="M297.5,769V773" stroke="#808080" stroke-width="1"/>
<text x="298" y="787" fill="#000" font-size="11" text-anchor="middle" font-weight="normal" >03:00</text>
<path d="M346.5,769V773" stroke="#808080" stroke-width="1"/>
<text x="347" y="787" fill="#000" font-size="11" text-anchor="middle" font-weight="normal" >04:00</text>
<path d="M395.5,769V773" stroke="#808080" stroke-width="1"/>
<text x="396" y="787" fill="#000" font-size="11" text-anchor="middle" font-weight="normal" >05:00</text>
<path d="M443.5,769V773" stroke="#808080" stroke-width="1"/>
<text x="444" y="787" fill="#000" font-size="11" text-anchor="middle" font-weight="normal" >06:00</text>
<path d="M492.5,769V773" stroke="#808080" stroke-width="1"/>
<text x="493" y="787" fill="#000" font-size="11" text-anchor="middle" font-weight="normal" >07:00</text>
<path d="M541.5,769V773" stroke="#808080" stroke-width="1"/>
<text x="542" y="787" fill="#000" font-size="11" text-anchor="middle" font-weight="normal" >08:00</text>
<path d="M590.5,769V773" stroke="#808080" stroke-width="1"/>
<text x="591" y="787" fill="#000" font-size="11" text-anchor="middle" font-weight="normal" >09:00</text>
<path d="M639.5,769V773" stroke="#808080" stroke-width="1"/>
<text x="640" y="787" fill="#000" font-size="11" text-anchor="middle" font-weight="normal" >10:00</text>
<path d="M687.5,769V773" stroke="#808080" stroke-width="1"/>
<text x="688" y="787" fill="#000" font-size="11" text-anchor="middle" font-weight="normal" >11:00</text>
<path d="M736.5,769V773" stroke="#808080" stroke-width="1"/>
<text x="737" y="787" fill="#000" font-size="11" text-anchor="middle" font-weight="normal" >12:00</text>
<path d="M785.5,769V773" stroke="#808080" stroke-width="1"/>
<text x="786" y="787" fill="#000" font-size="11" text-anchor="middle" font-weight="normal" >13:00</text>
<path d="M833.5,769V773" stroke="#808080" stroke-width="1"/>
<text x="834" y="787" fill="#000" font-size="11" text-anchor="middle" font-weight="normal" >14:00</text>
<path d="M882.5,769V773" stroke="#808080" stroke-width="1"/>
<text x="883" y="787" fill="#000" font-size="11" text-anchor="middle" font-weight="normal" >15:00</text>
<path d="M931.5,769V773" stroke="#808080" stroke-width="1"/>
<text x="932" y="787" fill="#000" font-size="11" text-anchor="middle" font-weight="normal" >16:00</text>
<path d="M980.5,769V773" stroke="#808080" stroke-width="1"/>
<text x="981" y="787" fill="#000" font-size="11" text-anchor="middle" font-weight="normal" >17:00</text>
<path d="M1029.5,769V773" stroke="#808080" stroke-width="1"/>
<text x="1030" y="787" fill="#000" font-size="11" text-anchor="middle" font-weight="normal" >18:00</text>
<path d="M1077.5,769V773" stroke="#808080" stroke-width="1"/>
<text x="1078" y="787" fill="#000" font-size="11" text-anchor="middle" font-weight="normal" >19:00</text>
<path d="M1126.5,769V773" stroke="#808080" stroke-width="1"/>
<text x="1127" y="787" fill="#000" font-size="11" text-anchor="middle" font-weight="normal" >20:00</text>
<path d="M1175.5,769V773" stroke="#808080" stroke-width="1"/>
<text x="1176" y="787" fill="#000" font-size="11" text-anchor="middle" font-weight="normal" >21:00</text>
<path d="M1223.5,769V773" stroke="#808080" stroke-width="1"/>
<text x="1224" y="787" fill="#000" font-size="11" text-anchor="middle" font-weight="normal" >22:00</text>
<path d="M1272.5,769V773" stroke="#808080" stroke-width="1"/>
<text x="1273" y="787" fill="#000" font-size="11" text-anchor="middle" font-weight="normal" >23:00</text>
<path d="M1321.5,769V773" stroke="#808080" stroke-width="1"/>
<text x="1322" y="787" fill="#000" font-size="11" text-anchor="middle" font-weight="normal" >24:00</text>
<text x="10.5" y="797.5" fill="#000" font-size="11" text-anchor="start" font-weight="normal" >13:32</text>
<path d="M40,797 a4.5,4.5 0 0 1 9,0 z" fill="#ffe600"/>
<rect x="475" y="764" width="2" height="13" fill="#ffe600"/>
<text x="443" y="797" fill="#000" font-size="11" text-anchor="start" font-weight="normal" >06:39</text>
<circle cx="476" cy="793.5" r="3.5" fill="#ffe600"/><circle cx="476" cy="793.5" r="5" fill="none" stroke="#fff080" stroke-width="1"/>
<rect x="986" y="764" width="2" height="13" fill="#707070"/>
<path d="M989.5,790 l-3,4 h2 v5 h2 v-5 h2 z" fill="#ffe600" stroke="#404000" stroke-width="0.4"/>
<rect x="982.5" y="788.5" width="4" height="4" fill="none" stroke="#3030c0" stroke-width="0.7" stroke-dasharray="1 1"/>
<text x="994" y="797.5" fill="#000" font-size="11" text-anchor="start" font-weight="normal" >17:08</text>
<rect x="1135" y="764" width="2" height="13" fill="#ffe600"/>
<text x="1103" y="797.5" fill="#000" font-size="11" text-anchor="start" font-weight="normal" >20:12</text>
<rect x="1133.5" y="791.5" width="5" height="5" fill="none" stroke="#ffff60" stroke-width="1"/>
<rect x="1299" y="764" width="2" height="13" fill="#707070"/>
<path d="M1297,790 h6 l-3,5 z" fill="#ffe600"/><path d="M1299,794 v3 l4,1" stroke="#3030c0" stroke-width="0.7" fill="none"/>
<text x="1306" y="797.5" fill="#000" font-size="11" text-anchor="start" font-weight="normal" >23:34</text>
<rect x="0" y="800" width="1431" height="90" fill="#ff8000"/>
<rect x="87" y="800" width="1" height="89" fill="#ffffff"/>
<rect x="88" y="800" width="1" height="89" fill="#a0a0a0"/>
<rect x="204" y="800" width="1" height="89" fill="#ffffff"/>
<rect x="205" y="800" width="1" height="89" fill="#a0a0a0"/>
<rect x="322" y="800" width="1" height="89" fill="#ffffff"/>
<rect x="323" y="800" width="1" height="89" fill="#a0a0a0"/>
<rect x="440" y="800" width="1" height="89" fill="#ffffff"/>
<rect x="441" y="800" width="1" height="89" fill="#a0a0a0"/>
<rect x="558" y="800" width="1" height="89" fill="#ffffff"/>
<rect x="559" y="800" width="1" height="89" fill="#a0a0a0"/>
<rect x="676" y="800" width="1" height="89" fill="#ffffff"/>
<rect x="677" y="800" width="1" height="89" fill="#a0a0a0"/>
<rect x="794" y="800" width="1" height="89" fill="#ffffff"/>
<rect x="795" y="800" width="1" height="89" fill="#a0a0a0"/>
<rect x="912" y="800" width="1" height="89" fill="#ffffff"/>
<rect x="913" y="800" width="1" height="89" fill="#a0a0a0"/>
<rect x="1431" y="800" width="1" height="131" fill="#a0a0a0"/>
<rect x="0" y="890" width="1431" height="1" fill="#a0a0a0"/>
<rect x="0" y="891" width="1431" height="1" fill="#ffffff"/>
<rect x="0" y="892" width="1430" height="1" fill="#a8a0b0"/>
<rect x="0" y="893" width="1430" height="36" fill="#2ce81c"/>
<rect x="0" y="929" width="1431" height="1" fill="#ffffff"/>
<rect x="0" y="930" width="1432" height="1" fill="#a0a0a0"/>
<rect x="1430" y="891" width="1" height="39" fill="#ffffff"/>
<rect x="87" y="893" width="1" height="37" fill="#ffffff"/>
<rect x="88" y="892" width="1" height="38" fill="#a0a0a0"/>
<rect x="204" y="893" width="1" height="37" fill="#ffffff"/>
<rect x="205" y="892" width="1" height="38" fill="#a0a0a0"/>
<rect x="322" y="893" width="1" height="37" fill="#ffffff"/>
<rect x="323" y="892" width="1" height="38" fill="#a0a0a0"/>
<rect x="440" y="893" width="1" height="37" fill="#ffffff"/>
<rect x="441" y="892" width="1" height="38" fill="#a0a0a0"/>
<rect x="558" y="893" width="1" height="37" fill="#ffffff"/>
<rect x="559" y="892" width="1" height="38" fill="#a0a0a0"/>
<text x="8.5" y="818" fill="#000" font-size="11" text-anchor="start" font-weight="bold" letter-spacing="0.3" >Sensor</text>
<text x="8.5" y="834" fill="#000" font-size="11" text-anchor="start" font-weight="bold" letter-spacing="0.3" >MinWert</text>
<text x="8.5" y="850" fill="#000" font-size="11" text-anchor="start" font-weight="bold" letter-spacing="0.3" >MaxWert</text>
<text x="8.5" y="866" fill="#000" font-size="11" text-anchor="start" font-weight="bold" letter-spacing="0.3" >Durchschnitt</text>
<text x="8.5" y="882" fill="#000" font-size="11" text-anchor="start" font-weight="bold" letter-spacing="0.3" >01.09. 23:59</text>
<text x="94.5" y="818" fill="#000" font-size="11" text-anchor="start" font-weight="bold" letter-spacing="0.3" >Temp. 2m</text>
<text x="198.5" y="818" fill="#000" font-size="11" text-anchor="end" font-weight="bold" letter-spacing="0.3" >°C</text>
<text x="100.5" y="834" fill="#000" font-size="11" text-anchor="start" font-weight="normal" >23:53</text>
<text x="198.5" y="834" fill="#000" font-size="11" text-anchor="end" font-weight="normal" >11.8</text>
<text x="100.5" y="850" fill="#000" font-size="11" text-anchor="start" font-weight="normal" >17:21</text>
<text x="198.5" y="850" fill="#000" font-size="11" text-anchor="end" font-weight="normal" >19.6</text>
<text x="198.5" y="866" fill="#000" font-size="11" text-anchor="end" font-weight="normal" >16.14</text>
<text x="96" y="882" fill="#000" font-size="11" text-anchor="start" font-weight="normal" >F: 90 %</text>
<text x="198.5" y="882" fill="#000" font-size="11" text-anchor="end" font-weight="bold" letter-spacing="0.3" >11.8</text>
<text x="212.5" y="818" fill="#000" font-size="11" text-anchor="start" font-weight="bold" letter-spacing="0.3" >Temp. 5cm</text>
<text x="316.5" y="818" fill="#000" font-size="11" text-anchor="end" font-weight="bold" letter-spacing="0.3" >°C</text>
<text x="218.5" y="834" fill="#000" font-size="11" text-anchor="start" font-weight="normal" >22:44</text>
<text x="316.5" y="834" fill="#000" font-size="11" text-anchor="end" font-weight="normal" >10.6</text>
<text x="218.5" y="850" fill="#000" font-size="11" text-anchor="start" font-weight="normal" >14:07</text>
<text x="316.5" y="850" fill="#000" font-size="11" text-anchor="end" font-weight="normal" >23.1</text>
<text x="316.5" y="866" fill="#000" font-size="11" text-anchor="end" font-weight="normal" >15.64</text>
<text x="316.5" y="882" fill="#000" font-size="11" text-anchor="end" font-weight="bold" letter-spacing="0.3" >11.1</text>
<text x="330" y="818" fill="#000" font-size="11" text-anchor="start" font-weight="bold" letter-spacing="0.3" >Feuchte A.</text>
<text x="434" y="818" fill="#000" font-size="11" text-anchor="end" font-weight="bold" letter-spacing="0.3" >%</text>
<text x="337" y="834" fill="#000" font-size="11" text-anchor="start" font-weight="normal" >18:13</text>
<text x="434" y="834" fill="#000" font-size="11" text-anchor="end" font-weight="normal" >65</text>
<text x="337" y="850" fill="#000" font-size="11" text-anchor="start" font-weight="normal" >23:59</text>
<text x="434" y="850" fill="#000" font-size="11" text-anchor="end" font-weight="normal" >90</text>
<text x="434" y="866" fill="#000" font-size="11" text-anchor="end" font-weight="normal" >80</text>
<text x="332.5" y="882" fill="#000" font-size="11" text-anchor="start" font-weight="normal" >9.48 g/m³</text>
<text x="434" y="882" fill="#000" font-size="11" text-anchor="end" font-weight="bold" letter-spacing="0.3" >90</text>
<text x="448.5" y="818" fill="#000" font-size="11" text-anchor="start" font-weight="bold" letter-spacing="0.3" >Regen</text>
<text x="552" y="818" fill="#000" font-size="11" text-anchor="end" font-weight="bold" letter-spacing="0.3" >l/m²</text>
<text x="454" y="850" fill="#000" font-size="11" text-anchor="start" font-weight="normal" >07:28</text>
<text x="552" y="850" fill="#000" font-size="11" text-anchor="end" font-weight="normal" >0.2</text>
<text x="447.5" y="866" fill="#000" font-size="11" text-anchor="start" font-weight="normal" >Gesamt:</text>
<text x="552" y="866" fill="#000" font-size="11" text-anchor="end" font-weight="normal" >1.6</text>
<text x="451.5" y="882" fill="#000" font-size="11" text-anchor="start" font-weight="normal" >1.6 l/m²</text>
<text x="552" y="882" fill="#000" font-size="11" text-anchor="end" font-weight="bold" letter-spacing="0.3" >0.0</text>
<text x="566.5" y="818" fill="#000" font-size="11" text-anchor="start" font-weight="bold" letter-spacing="0.3" >Luftdruck</text>
<text x="670.5" y="818" fill="#000" font-size="11" text-anchor="end" font-weight="bold" letter-spacing="0.3" >hPa</text>
<text x="572" y="834" fill="#000" font-size="11" text-anchor="start" font-weight="normal" >06:36</text>
<text x="670.5" y="834" fill="#000" font-size="11" text-anchor="end" font-weight="normal" >1005.0</text>
<text x="572.5" y="850" fill="#000" font-size="11" text-anchor="start" font-weight="normal" >22:48</text>
<text x="670.5" y="850" fill="#000" font-size="11" text-anchor="end" font-weight="normal" >1009.2</text>
<text x="566.5" y="866" fill="#000" font-size="11" text-anchor="start" font-weight="normal" >^1.3hPa/h</text>
<text x="670.5" y="866" fill="#000" font-size="11" text-anchor="end" font-weight="normal" >1007.4</text>
<text x="566.5" y="882" fill="#000" font-size="11" text-anchor="start" font-weight="normal" >veränderlich</text>
<text x="670.5" y="882" fill="#000" font-size="11" text-anchor="end" font-weight="bold" letter-spacing="0.3" >1009.0</text>
<text x="684.5" y="818" fill="#000" font-size="11" text-anchor="start" font-weight="bold" letter-spacing="0.3" >Sonnenschein</text>
<text x="788.5" y="818" fill="#000" font-size="11" text-anchor="end" font-weight="bold" letter-spacing="0.3" >min</text>
<text x="690.5" y="850" fill="#000" font-size="11" text-anchor="start" font-weight="normal" >14:05</text>
<text x="788.5" y="850" fill="#000" font-size="11" text-anchor="end" font-weight="normal" >1</text>
<text x="684.5" y="866" fill="#000" font-size="11" text-anchor="start" font-weight="normal" >1:10 h</text>
<text x="788.5" y="866" fill="#000" font-size="11" text-anchor="end" font-weight="normal" >0</text>
<text x="788.5" y="882" fill="#000" font-size="11" text-anchor="end" font-weight="bold" letter-spacing="0.3" >0</text>
<text x="802.5" y="818" fill="#000" font-size="11" text-anchor="start" font-weight="bold" letter-spacing="0.3" >Windböen</text>
<text x="906" y="818" fill="#000" font-size="11" text-anchor="end" font-weight="bold" letter-spacing="0.3" >km/h</text>
<text x="801.5" y="834" fill="#000" font-size="11" text-anchor="start" font-weight="normal" >Ø 10 min.</text>
<text x="906" y="834" fill="#000" font-size="11" text-anchor="end" font-weight="normal" >1.4</text>
<text x="807.5" y="850" fill="#000" font-size="11" text-anchor="start" font-weight="normal" >08:02</text>
<text x="906" y="850" fill="#000" font-size="11" text-anchor="end" font-weight="normal" >S-SW 20.9</text>
<text x="807.5" y="866" fill="#000" font-size="11" text-anchor="start" font-weight="normal" >61.5 km</text>
<text x="906" y="866" fill="#000" font-size="11" text-anchor="end" font-weight="normal" >2.6</text>
<text x="809" y="882" fill="#000" font-size="11" text-anchor="start" font-weight="normal" >1 Bft N</text>
<text x="906" y="882" fill="#000" font-size="11" text-anchor="end" font-weight="bold" letter-spacing="0.3" >3.2</text>
<text x="920.5" y="818" fill="#000" font-size="11" text-anchor="start" font-weight="bold" letter-spacing="0.3" >Wind</text>
<text x="1022" y="818" fill="#000" font-size="11" text-anchor="end" font-weight="bold" letter-spacing="0.3" >km/h</text>
<text x="920" y="834" fill="#000" font-size="11" text-anchor="start" font-weight="normal" >Ø 10 min.</text>
<text x="1022" y="834" fill="#000" font-size="11" text-anchor="end" font-weight="normal" >0.0</text>
<text x="925.5" y="850" fill="#000" font-size="11" text-anchor="start" font-weight="normal" >08:10</text>
<text x="1022" y="850" fill="#000" font-size="11" text-anchor="end" font-weight="normal" >S-SO 7.9</text>
<text x="925.5" y="866" fill="#000" font-size="11" text-anchor="start" font-weight="normal" >61.5 km</text>
<text x="1022" y="866" fill="#000" font-size="11" text-anchor="end" font-weight="normal" >1.3</text>
<text x="925.5" y="882" fill="#000" font-size="11" text-anchor="start" font-weight="normal" >0 Bft N-NW</text>
<text x="1022" y="882" fill="#000" font-size="11" text-anchor="end" font-weight="bold" letter-spacing="0.3" >0.0</text>
<text x="7.5" y="907" fill="#000" font-size="11" text-anchor="start" font-weight="normal" >Wetterdaten</text>
<text x="7.5" y="923" fill="#000" font-size="11" text-anchor="start" font-weight="normal" >01.09.25 23:59</text>
<text x="94" y="907" fill="#000" font-size="11" text-anchor="start" font-weight="normal" >Temp. I.</text>
<text x="198" y="907" fill="#000" font-size="11" text-anchor="end" font-weight="normal" >23.5 °C</text>
<text x="94" y="923" fill="#000" font-size="11" text-anchor="start" font-weight="normal" >Feuchte I.</text>
<text x="198" y="923" fill="#000" font-size="11" text-anchor="end" font-weight="normal" >54 %</text>
<text x="210" y="907" fill="#000" font-size="11" text-anchor="start" font-weight="normal" >Temp. 2m</text>
<text x="314.5" y="907" fill="#000" font-size="11" text-anchor="end" font-weight="normal" >11.8 °C</text>
<text x="210" y="923" fill="#000" font-size="11" text-anchor="start" font-weight="normal" >Feuchte A.</text>
<text x="314.5" y="923" fill="#000" font-size="11" text-anchor="end" font-weight="normal" >90 %</text>
<text x="329.5" y="907" fill="#000" font-size="11" text-anchor="start" font-weight="normal" >Luftdruck</text>
<text x="434" y="907" fill="#000" font-size="11" text-anchor="end" font-weight="normal" >1009.0 hPa</text>
<text x="329.5" y="923" fill="#000" font-size="11" text-anchor="start" font-weight="normal" >Regen</text>
<text x="434" y="923" fill="#000" font-size="11" text-anchor="end" font-weight="normal" >0.0 l/m²</text>
<text x="447.5" y="907" fill="#000" font-size="11" text-anchor="start" font-weight="normal" >Wind</text>
<text x="552" y="907" fill="#000" font-size="11" text-anchor="end" font-weight="normal" >0.0 km/h</text>
<text x="447.5" y="923" fill="#000" font-size="11" text-anchor="start" font-weight="normal" >Richtung</text>
<text x="552" y="923" fill="#000" font-size="11" text-anchor="end" font-weight="normal" >N-NW</text>
<text x="1099.5" y="907" fill="#000" font-size="11" text-anchor="start" font-weight="normal" >WR 337°</text>
<text x="1099.5" y="923" fill="#000" font-size="11" text-anchor="start" font-weight="normal" >WC 11.8°C</text>
<text x="1169.5" y="907" fill="#000" font-size="11" text-anchor="start" font-weight="normal" >Solar</text>
<text x="1285" y="907" fill="#000" font-size="11" text-anchor="end" font-weight="normal" >0 W/m²</text>
<text x="1169.5" y="923" fill="#000" font-size="11" text-anchor="start" font-weight="normal" >ET</text>
<text x="1276" y="923" fill="#000" font-size="11" text-anchor="end" font-weight="normal" >0.000 mm</text>
<text x="1309" y="907" fill="#000" font-size="11" text-anchor="start" font-weight="normal" >UV</text>
<text x="1425" y="907" fill="#000" font-size="11" text-anchor="end" font-weight="normal" >0.0 UV-I</text>
<text x="1309" y="923" fill="#000" font-size="11" text-anchor="start" font-weight="normal" >Taupunkt</text>
<text x="1416" y="923" fill="#000" font-size="11" text-anchor="end" font-weight="normal" >10.2 °C</text>
<g>
<rect x="562" y="894" width="34" height="34" fill="#4d94cc"/>
<rect x="563" y="895" width="32" height="8" fill="#5aa0d6"/>
<ellipse cx="578" cy="909" rx="7" ry="4" fill="#c8d840" opacity="0.7"/>
<ellipse cx="579" cy="918" rx="13" ry="3" fill="#3e6f96"/>
<ellipse cx="574" cy="913" rx="9" ry="4.5" fill="#e6f2fa"/>
<ellipse cx="586" cy="913" rx="8" ry="4" fill="#dcecf8"/>
<circle cx="578" cy="907.5" r="3.5" fill="#f2f020"/>
<ellipse cx="577" cy="900" rx="5.5" ry="3" fill="#eef6fc"/>
<ellipse cx="582" cy="901.5" rx="3" ry="2" fill="#e0eef8"/>
<ellipse cx="592" cy="899" rx="3" ry="2" fill="#eef6fc"/>
<ellipse cx="573" cy="924.5" rx="3.5" ry="1.8" fill="#e8f4fc"/>
<ellipse cx="573" cy="926" rx="3" ry="1" fill="#2a4a66"/>
<path d="M562.5,928V894.5H595.5" fill="none" stroke="#101028" stroke-width="1"/>
</g>
</svg>
</body></html>
